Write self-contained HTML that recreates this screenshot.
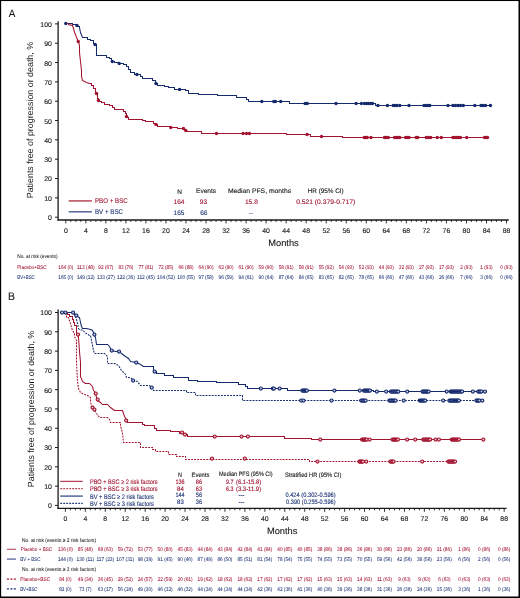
<!DOCTYPE html><html><head><meta charset="utf-8"><style>html,body{margin:0;padding:0;background:#fff;}svg{display:block;will-change:transform;}text{font-family:"Liberation Sans",sans-serif;text-rendering:geometricPrecision;}</style></head><body>
<svg width="520" height="598" viewBox="0 0 520 598">
<rect x="0" y="0" width="520" height="598" fill="#fff"/>
<text x="8.80" y="17.10" font-size="10.6" fill="#1a1a1a" stroke="#1a1a1a" stroke-width="0.12" textLength="6.60" lengthAdjust="spacingAndGlyphs">A</text>
<text x="8.00" y="299.60" font-size="11.0" fill="#1a1a1a" stroke="#1a1a1a" stroke-width="0.12" textLength="6.90" lengthAdjust="spacingAndGlyphs">B</text>
<line x1="58.10" y1="21.30" x2="58.10" y2="220.60" stroke="#1a1a1a" stroke-width="1.3"/>
<line x1="57.45" y1="220.00" x2="508.80" y2="220.00" stroke="#1a1a1a" stroke-width="1.3"/>
<line x1="55.00" y1="217.20" x2="58.10" y2="217.20" stroke="#1a1a1a" stroke-width="1.0"/>
<text x="51.80" y="220.15" font-size="6.9" fill="#1a1a1a" stroke="#1a1a1a" stroke-width="0.12" text-anchor="end">0</text>
<line x1="55.00" y1="197.87" x2="58.10" y2="197.87" stroke="#1a1a1a" stroke-width="1.0"/>
<text x="51.80" y="200.82" font-size="6.9" fill="#1a1a1a" stroke="#1a1a1a" stroke-width="0.12" text-anchor="end">10</text>
<line x1="55.00" y1="178.54" x2="58.10" y2="178.54" stroke="#1a1a1a" stroke-width="1.0"/>
<text x="51.80" y="181.49" font-size="6.9" fill="#1a1a1a" stroke="#1a1a1a" stroke-width="0.12" text-anchor="end">20</text>
<line x1="55.00" y1="159.21" x2="58.10" y2="159.21" stroke="#1a1a1a" stroke-width="1.0"/>
<text x="51.80" y="162.16" font-size="6.9" fill="#1a1a1a" stroke="#1a1a1a" stroke-width="0.12" text-anchor="end">30</text>
<line x1="55.00" y1="139.88" x2="58.10" y2="139.88" stroke="#1a1a1a" stroke-width="1.0"/>
<text x="51.80" y="142.83" font-size="6.9" fill="#1a1a1a" stroke="#1a1a1a" stroke-width="0.12" text-anchor="end">40</text>
<line x1="55.00" y1="120.55" x2="58.10" y2="120.55" stroke="#1a1a1a" stroke-width="1.0"/>
<text x="51.80" y="123.50" font-size="6.9" fill="#1a1a1a" stroke="#1a1a1a" stroke-width="0.12" text-anchor="end">50</text>
<line x1="55.00" y1="101.22" x2="58.10" y2="101.22" stroke="#1a1a1a" stroke-width="1.0"/>
<text x="51.80" y="104.17" font-size="6.9" fill="#1a1a1a" stroke="#1a1a1a" stroke-width="0.12" text-anchor="end">60</text>
<line x1="55.00" y1="81.89" x2="58.10" y2="81.89" stroke="#1a1a1a" stroke-width="1.0"/>
<text x="51.80" y="84.84" font-size="6.9" fill="#1a1a1a" stroke="#1a1a1a" stroke-width="0.12" text-anchor="end">70</text>
<line x1="55.00" y1="62.56" x2="58.10" y2="62.56" stroke="#1a1a1a" stroke-width="1.0"/>
<text x="51.80" y="65.51" font-size="6.9" fill="#1a1a1a" stroke="#1a1a1a" stroke-width="0.12" text-anchor="end">80</text>
<line x1="55.00" y1="43.23" x2="58.10" y2="43.23" stroke="#1a1a1a" stroke-width="1.0"/>
<text x="51.80" y="46.18" font-size="6.9" fill="#1a1a1a" stroke="#1a1a1a" stroke-width="0.12" text-anchor="end">90</text>
<line x1="55.00" y1="23.90" x2="58.10" y2="23.90" stroke="#1a1a1a" stroke-width="1.0"/>
<text x="51.80" y="26.85" font-size="6.9" fill="#1a1a1a" stroke="#1a1a1a" stroke-width="0.12" text-anchor="end">100</text>
<line x1="65.80" y1="220.00" x2="65.80" y2="223.40" stroke="#1a1a1a" stroke-width="0.9"/>
<text x="65.80" y="232.90" font-size="6.9" fill="#1a1a1a" stroke="#1a1a1a" stroke-width="0.12" text-anchor="middle">0</text>
<line x1="70.81" y1="220.00" x2="70.81" y2="221.90" stroke="#1a1a1a" stroke-width="0.9"/>
<line x1="75.82" y1="220.00" x2="75.82" y2="221.90" stroke="#1a1a1a" stroke-width="0.9"/>
<line x1="80.82" y1="220.00" x2="80.82" y2="221.90" stroke="#1a1a1a" stroke-width="0.9"/>
<line x1="85.83" y1="220.00" x2="85.83" y2="223.40" stroke="#1a1a1a" stroke-width="0.9"/>
<text x="85.83" y="232.90" font-size="6.9" fill="#1a1a1a" stroke="#1a1a1a" stroke-width="0.12" text-anchor="middle">4</text>
<line x1="90.84" y1="220.00" x2="90.84" y2="221.90" stroke="#1a1a1a" stroke-width="0.9"/>
<line x1="95.85" y1="220.00" x2="95.85" y2="221.90" stroke="#1a1a1a" stroke-width="0.9"/>
<line x1="100.86" y1="220.00" x2="100.86" y2="221.90" stroke="#1a1a1a" stroke-width="0.9"/>
<line x1="105.86" y1="220.00" x2="105.86" y2="223.40" stroke="#1a1a1a" stroke-width="0.9"/>
<text x="105.86" y="232.90" font-size="6.9" fill="#1a1a1a" stroke="#1a1a1a" stroke-width="0.12" text-anchor="middle">8</text>
<line x1="110.87" y1="220.00" x2="110.87" y2="221.90" stroke="#1a1a1a" stroke-width="0.9"/>
<line x1="115.88" y1="220.00" x2="115.88" y2="221.90" stroke="#1a1a1a" stroke-width="0.9"/>
<line x1="120.89" y1="220.00" x2="120.89" y2="221.90" stroke="#1a1a1a" stroke-width="0.9"/>
<line x1="125.90" y1="220.00" x2="125.90" y2="223.40" stroke="#1a1a1a" stroke-width="0.9"/>
<text x="125.90" y="232.90" font-size="6.9" fill="#1a1a1a" stroke="#1a1a1a" stroke-width="0.12" text-anchor="middle">12</text>
<line x1="130.90" y1="220.00" x2="130.90" y2="221.90" stroke="#1a1a1a" stroke-width="0.9"/>
<line x1="135.91" y1="220.00" x2="135.91" y2="221.90" stroke="#1a1a1a" stroke-width="0.9"/>
<line x1="140.92" y1="220.00" x2="140.92" y2="221.90" stroke="#1a1a1a" stroke-width="0.9"/>
<line x1="145.93" y1="220.00" x2="145.93" y2="223.40" stroke="#1a1a1a" stroke-width="0.9"/>
<text x="145.93" y="232.90" font-size="6.9" fill="#1a1a1a" stroke="#1a1a1a" stroke-width="0.12" text-anchor="middle">16</text>
<line x1="150.94" y1="220.00" x2="150.94" y2="221.90" stroke="#1a1a1a" stroke-width="0.9"/>
<line x1="155.94" y1="220.00" x2="155.94" y2="221.90" stroke="#1a1a1a" stroke-width="0.9"/>
<line x1="160.95" y1="220.00" x2="160.95" y2="221.90" stroke="#1a1a1a" stroke-width="0.9"/>
<line x1="165.96" y1="220.00" x2="165.96" y2="223.40" stroke="#1a1a1a" stroke-width="0.9"/>
<text x="165.96" y="232.90" font-size="6.9" fill="#1a1a1a" stroke="#1a1a1a" stroke-width="0.12" text-anchor="middle">20</text>
<line x1="170.97" y1="220.00" x2="170.97" y2="221.90" stroke="#1a1a1a" stroke-width="0.9"/>
<line x1="175.98" y1="220.00" x2="175.98" y2="221.90" stroke="#1a1a1a" stroke-width="0.9"/>
<line x1="180.98" y1="220.00" x2="180.98" y2="221.90" stroke="#1a1a1a" stroke-width="0.9"/>
<line x1="185.99" y1="220.00" x2="185.99" y2="223.40" stroke="#1a1a1a" stroke-width="0.9"/>
<text x="185.99" y="232.90" font-size="6.9" fill="#1a1a1a" stroke="#1a1a1a" stroke-width="0.12" text-anchor="middle">24</text>
<line x1="191.00" y1="220.00" x2="191.00" y2="221.90" stroke="#1a1a1a" stroke-width="0.9"/>
<line x1="196.01" y1="220.00" x2="196.01" y2="221.90" stroke="#1a1a1a" stroke-width="0.9"/>
<line x1="201.02" y1="220.00" x2="201.02" y2="221.90" stroke="#1a1a1a" stroke-width="0.9"/>
<line x1="206.02" y1="220.00" x2="206.02" y2="223.40" stroke="#1a1a1a" stroke-width="0.9"/>
<text x="206.02" y="232.90" font-size="6.9" fill="#1a1a1a" stroke="#1a1a1a" stroke-width="0.12" text-anchor="middle">28</text>
<line x1="211.03" y1="220.00" x2="211.03" y2="221.90" stroke="#1a1a1a" stroke-width="0.9"/>
<line x1="216.04" y1="220.00" x2="216.04" y2="221.90" stroke="#1a1a1a" stroke-width="0.9"/>
<line x1="221.05" y1="220.00" x2="221.05" y2="221.90" stroke="#1a1a1a" stroke-width="0.9"/>
<line x1="226.06" y1="220.00" x2="226.06" y2="223.40" stroke="#1a1a1a" stroke-width="0.9"/>
<text x="226.06" y="232.90" font-size="6.9" fill="#1a1a1a" stroke="#1a1a1a" stroke-width="0.12" text-anchor="middle">32</text>
<line x1="231.06" y1="220.00" x2="231.06" y2="221.90" stroke="#1a1a1a" stroke-width="0.9"/>
<line x1="236.07" y1="220.00" x2="236.07" y2="221.90" stroke="#1a1a1a" stroke-width="0.9"/>
<line x1="241.08" y1="220.00" x2="241.08" y2="221.90" stroke="#1a1a1a" stroke-width="0.9"/>
<line x1="246.09" y1="220.00" x2="246.09" y2="223.40" stroke="#1a1a1a" stroke-width="0.9"/>
<text x="246.09" y="232.90" font-size="6.9" fill="#1a1a1a" stroke="#1a1a1a" stroke-width="0.12" text-anchor="middle">36</text>
<line x1="251.10" y1="220.00" x2="251.10" y2="221.90" stroke="#1a1a1a" stroke-width="0.9"/>
<line x1="256.10" y1="220.00" x2="256.10" y2="221.90" stroke="#1a1a1a" stroke-width="0.9"/>
<line x1="261.11" y1="220.00" x2="261.11" y2="221.90" stroke="#1a1a1a" stroke-width="0.9"/>
<line x1="266.12" y1="220.00" x2="266.12" y2="223.40" stroke="#1a1a1a" stroke-width="0.9"/>
<text x="266.12" y="232.90" font-size="6.9" fill="#1a1a1a" stroke="#1a1a1a" stroke-width="0.12" text-anchor="middle">40</text>
<line x1="271.13" y1="220.00" x2="271.13" y2="221.90" stroke="#1a1a1a" stroke-width="0.9"/>
<line x1="276.14" y1="220.00" x2="276.14" y2="221.90" stroke="#1a1a1a" stroke-width="0.9"/>
<line x1="281.14" y1="220.00" x2="281.14" y2="221.90" stroke="#1a1a1a" stroke-width="0.9"/>
<line x1="286.15" y1="220.00" x2="286.15" y2="223.40" stroke="#1a1a1a" stroke-width="0.9"/>
<text x="286.15" y="232.90" font-size="6.9" fill="#1a1a1a" stroke="#1a1a1a" stroke-width="0.12" text-anchor="middle">44</text>
<line x1="291.16" y1="220.00" x2="291.16" y2="221.90" stroke="#1a1a1a" stroke-width="0.9"/>
<line x1="296.17" y1="220.00" x2="296.17" y2="221.90" stroke="#1a1a1a" stroke-width="0.9"/>
<line x1="301.18" y1="220.00" x2="301.18" y2="221.90" stroke="#1a1a1a" stroke-width="0.9"/>
<line x1="306.18" y1="220.00" x2="306.18" y2="223.40" stroke="#1a1a1a" stroke-width="0.9"/>
<text x="306.18" y="232.90" font-size="6.9" fill="#1a1a1a" stroke="#1a1a1a" stroke-width="0.12" text-anchor="middle">48</text>
<line x1="311.19" y1="220.00" x2="311.19" y2="221.90" stroke="#1a1a1a" stroke-width="0.9"/>
<line x1="316.20" y1="220.00" x2="316.20" y2="221.90" stroke="#1a1a1a" stroke-width="0.9"/>
<line x1="321.21" y1="220.00" x2="321.21" y2="221.90" stroke="#1a1a1a" stroke-width="0.9"/>
<line x1="326.22" y1="220.00" x2="326.22" y2="223.40" stroke="#1a1a1a" stroke-width="0.9"/>
<text x="326.22" y="232.90" font-size="6.9" fill="#1a1a1a" stroke="#1a1a1a" stroke-width="0.12" text-anchor="middle">52</text>
<line x1="331.22" y1="220.00" x2="331.22" y2="221.90" stroke="#1a1a1a" stroke-width="0.9"/>
<line x1="336.23" y1="220.00" x2="336.23" y2="221.90" stroke="#1a1a1a" stroke-width="0.9"/>
<line x1="341.24" y1="220.00" x2="341.24" y2="221.90" stroke="#1a1a1a" stroke-width="0.9"/>
<line x1="346.25" y1="220.00" x2="346.25" y2="223.40" stroke="#1a1a1a" stroke-width="0.9"/>
<text x="346.25" y="232.90" font-size="6.9" fill="#1a1a1a" stroke="#1a1a1a" stroke-width="0.12" text-anchor="middle">56</text>
<line x1="351.26" y1="220.00" x2="351.26" y2="221.90" stroke="#1a1a1a" stroke-width="0.9"/>
<line x1="356.26" y1="220.00" x2="356.26" y2="221.90" stroke="#1a1a1a" stroke-width="0.9"/>
<line x1="361.27" y1="220.00" x2="361.27" y2="221.90" stroke="#1a1a1a" stroke-width="0.9"/>
<line x1="366.28" y1="220.00" x2="366.28" y2="223.40" stroke="#1a1a1a" stroke-width="0.9"/>
<text x="366.28" y="232.90" font-size="6.9" fill="#1a1a1a" stroke="#1a1a1a" stroke-width="0.12" text-anchor="middle">60</text>
<line x1="371.29" y1="220.00" x2="371.29" y2="221.90" stroke="#1a1a1a" stroke-width="0.9"/>
<line x1="376.30" y1="220.00" x2="376.30" y2="221.90" stroke="#1a1a1a" stroke-width="0.9"/>
<line x1="381.30" y1="220.00" x2="381.30" y2="221.90" stroke="#1a1a1a" stroke-width="0.9"/>
<line x1="386.31" y1="220.00" x2="386.31" y2="223.40" stroke="#1a1a1a" stroke-width="0.9"/>
<text x="386.31" y="232.90" font-size="6.9" fill="#1a1a1a" stroke="#1a1a1a" stroke-width="0.12" text-anchor="middle">64</text>
<line x1="391.32" y1="220.00" x2="391.32" y2="221.90" stroke="#1a1a1a" stroke-width="0.9"/>
<line x1="396.33" y1="220.00" x2="396.33" y2="221.90" stroke="#1a1a1a" stroke-width="0.9"/>
<line x1="401.34" y1="220.00" x2="401.34" y2="221.90" stroke="#1a1a1a" stroke-width="0.9"/>
<line x1="406.34" y1="220.00" x2="406.34" y2="223.40" stroke="#1a1a1a" stroke-width="0.9"/>
<text x="406.34" y="232.90" font-size="6.9" fill="#1a1a1a" stroke="#1a1a1a" stroke-width="0.12" text-anchor="middle">68</text>
<line x1="411.35" y1="220.00" x2="411.35" y2="221.90" stroke="#1a1a1a" stroke-width="0.9"/>
<line x1="416.36" y1="220.00" x2="416.36" y2="221.90" stroke="#1a1a1a" stroke-width="0.9"/>
<line x1="421.37" y1="220.00" x2="421.37" y2="221.90" stroke="#1a1a1a" stroke-width="0.9"/>
<line x1="426.38" y1="220.00" x2="426.38" y2="223.40" stroke="#1a1a1a" stroke-width="0.9"/>
<text x="426.38" y="232.90" font-size="6.9" fill="#1a1a1a" stroke="#1a1a1a" stroke-width="0.12" text-anchor="middle">72</text>
<line x1="431.38" y1="220.00" x2="431.38" y2="221.90" stroke="#1a1a1a" stroke-width="0.9"/>
<line x1="436.39" y1="220.00" x2="436.39" y2="221.90" stroke="#1a1a1a" stroke-width="0.9"/>
<line x1="441.40" y1="220.00" x2="441.40" y2="221.90" stroke="#1a1a1a" stroke-width="0.9"/>
<line x1="446.41" y1="220.00" x2="446.41" y2="223.40" stroke="#1a1a1a" stroke-width="0.9"/>
<text x="446.41" y="232.90" font-size="6.9" fill="#1a1a1a" stroke="#1a1a1a" stroke-width="0.12" text-anchor="middle">76</text>
<line x1="451.42" y1="220.00" x2="451.42" y2="221.90" stroke="#1a1a1a" stroke-width="0.9"/>
<line x1="456.42" y1="220.00" x2="456.42" y2="221.90" stroke="#1a1a1a" stroke-width="0.9"/>
<line x1="461.43" y1="220.00" x2="461.43" y2="221.90" stroke="#1a1a1a" stroke-width="0.9"/>
<line x1="466.44" y1="220.00" x2="466.44" y2="223.40" stroke="#1a1a1a" stroke-width="0.9"/>
<text x="466.44" y="232.90" font-size="6.9" fill="#1a1a1a" stroke="#1a1a1a" stroke-width="0.12" text-anchor="middle">80</text>
<line x1="471.45" y1="220.00" x2="471.45" y2="221.90" stroke="#1a1a1a" stroke-width="0.9"/>
<line x1="476.46" y1="220.00" x2="476.46" y2="221.90" stroke="#1a1a1a" stroke-width="0.9"/>
<line x1="481.46" y1="220.00" x2="481.46" y2="221.90" stroke="#1a1a1a" stroke-width="0.9"/>
<line x1="486.47" y1="220.00" x2="486.47" y2="223.40" stroke="#1a1a1a" stroke-width="0.9"/>
<text x="486.47" y="232.90" font-size="6.9" fill="#1a1a1a" stroke="#1a1a1a" stroke-width="0.12" text-anchor="middle">84</text>
<line x1="491.48" y1="220.00" x2="491.48" y2="221.90" stroke="#1a1a1a" stroke-width="0.9"/>
<line x1="496.49" y1="220.00" x2="496.49" y2="221.90" stroke="#1a1a1a" stroke-width="0.9"/>
<line x1="501.50" y1="220.00" x2="501.50" y2="221.90" stroke="#1a1a1a" stroke-width="0.9"/>
<line x1="506.50" y1="220.00" x2="506.50" y2="223.40" stroke="#1a1a1a" stroke-width="0.9"/>
<text x="506.50" y="232.90" font-size="6.9" fill="#1a1a1a" stroke="#1a1a1a" stroke-width="0.12" text-anchor="middle">88</text>
<text x="0" y="0" font-size="8.9" fill="#1a1a1a" text-anchor="middle" textLength="156.4" lengthAdjust="spacingAndGlyphs" transform="translate(33.4,120.1) rotate(-90)">Patients free of progression or death, %</text>
<text x="268.20" y="246.20" font-size="9.2" fill="#1a1a1a" stroke="#1a1a1a" stroke-width="0.12" textLength="30.60" lengthAdjust="spacingAndGlyphs">Months</text>
<polyline points="65.50,23.50 72.50,23.50 72.50,24.50 76.50,24.50 76.50,26.50 79.50,26.50 79.50,27.50 80.50,32.50 82.50,37.50 86.50,37.50 87.50,37.50 87.50,39.50 90.50,39.50 90.50,40.50 93.50,40.50 93.50,43.50 95.50,43.50 95.50,44.50 96.50,44.50 96.50,55.50 102.50,55.50 106.50,55.50 106.50,57.50 109.50,57.50 109.50,58.50 111.50,58.50 111.50,61.50 114.50,61.50 114.50,62.50 119.50,62.50 119.50,63.50 123.50,63.50 123.50,64.50 126.50,64.50 126.50,66.50 128.50,66.50 128.50,69.50 130.50,69.50 130.50,72.50 134.50,72.50 134.50,74.50 140.50,74.50 140.50,76.50 142.50,76.50 142.50,78.50 152.50,78.50 152.50,80.50 155.50,80.50 155.50,83.50 157.50,83.50 157.50,85.50 164.50,85.50 164.50,86.50 168.50,86.50 168.50,87.50 174.50,87.50 174.50,89.50 185.50,89.50 185.50,90.50 188.50,90.50 188.50,93.50 198.50,93.50 198.50,94.50 217.50,94.50 217.50,95.50 236.50,95.50 236.50,97.50 246.50,97.50 246.50,99.50 248.50,99.50 248.50,101.50 289.50,101.50 289.50,103.50 375.50,103.50 375.50,105.50 491.50,105.50" fill="none" stroke="#152a6d" stroke-width="1.05" stroke-linejoin="miter"/>
<polyline points="65.50,23.50 68.50,23.50 68.50,24.50 72.50,25.50 73.50,28.50 74.50,32.50 75.50,34.50 76.50,37.50 78.50,41.50 79.50,45.50 79.50,52.50 80.50,61.50 81.50,70.50 81.50,76.50 82.50,80.50 86.50,82.50 89.50,83.50 91.50,83.50 91.50,85.50 93.50,85.50 93.50,88.50 95.50,88.50 95.50,93.50 97.50,93.50 97.50,98.50 98.50,98.50 98.50,101.50 101.50,101.50 101.50,102.50 104.50,102.50 104.50,104.50 109.50,104.50 109.50,105.50 112.50,105.50 112.50,107.50 114.50,107.50 114.50,109.50 123.50,109.50 123.50,111.50 125.50,111.50 125.50,113.50 126.50,113.50 126.50,117.50 128.50,117.50 128.50,119.50 142.50,119.50 142.50,120.50 145.50,120.50 145.50,121.50 153.50,121.50 153.50,123.50 155.50,123.50 155.50,124.50 157.50,124.50 157.50,126.50 170.50,126.50 170.50,127.50 177.50,127.50 177.50,128.50 184.50,128.50 184.50,130.50 186.50,130.50 186.50,131.50 201.50,131.50 201.50,133.50 286.50,133.50 286.50,134.50 310.50,134.50 310.50,136.50 342.50,136.50 342.50,137.50 487.50,137.50" fill="none" stroke="#a3132f" stroke-width="1.05" stroke-linejoin="miter"/>
<circle cx="65.80" cy="23.50" r="1.7" fill="#152a6d"/>
<circle cx="77.00" cy="25.50" r="1.7" fill="#152a6d"/>
<circle cx="95.10" cy="44.50" r="1.7" fill="#152a6d"/>
<circle cx="112.30" cy="61.50" r="1.7" fill="#152a6d"/>
<circle cx="119.20" cy="63.50" r="1.7" fill="#152a6d"/>
<circle cx="136.90" cy="74.50" r="1.7" fill="#152a6d"/>
<circle cx="156.00" cy="83.50" r="1.7" fill="#152a6d"/>
<circle cx="179.60" cy="89.50" r="1.7" fill="#152a6d"/>
<circle cx="261.80" cy="101.50" r="1.7" fill="#152a6d"/>
<circle cx="273.80" cy="101.50" r="1.7" fill="#152a6d"/>
<circle cx="275.40" cy="101.50" r="1.7" fill="#152a6d"/>
<circle cx="280.70" cy="101.50" r="1.7" fill="#152a6d"/>
<circle cx="305.10" cy="103.50" r="1.7" fill="#152a6d"/>
<circle cx="307.30" cy="103.50" r="1.7" fill="#152a6d"/>
<circle cx="336.00" cy="103.50" r="1.7" fill="#152a6d"/>
<circle cx="356.10" cy="103.50" r="1.7" fill="#152a6d"/>
<circle cx="361.40" cy="103.50" r="1.7" fill="#152a6d"/>
<circle cx="364.50" cy="103.50" r="1.7" fill="#152a6d"/>
<circle cx="366.50" cy="103.50" r="1.7" fill="#152a6d"/>
<circle cx="368.50" cy="103.50" r="1.7" fill="#152a6d"/>
<circle cx="370.50" cy="103.50" r="1.7" fill="#152a6d"/>
<circle cx="372.50" cy="103.50" r="1.7" fill="#152a6d"/>
<circle cx="377.90" cy="105.50" r="1.7" fill="#152a6d"/>
<circle cx="387.40" cy="105.50" r="1.7" fill="#152a6d"/>
<circle cx="393.20" cy="105.50" r="1.7" fill="#152a6d"/>
<circle cx="395.00" cy="105.50" r="1.7" fill="#152a6d"/>
<circle cx="397.00" cy="105.50" r="1.7" fill="#152a6d"/>
<circle cx="399.80" cy="105.50" r="1.7" fill="#152a6d"/>
<circle cx="409.00" cy="105.50" r="1.7" fill="#152a6d"/>
<circle cx="424.00" cy="105.50" r="1.7" fill="#152a6d"/>
<circle cx="426.00" cy="105.50" r="1.7" fill="#152a6d"/>
<circle cx="428.00" cy="105.50" r="1.7" fill="#152a6d"/>
<circle cx="429.80" cy="105.50" r="1.7" fill="#152a6d"/>
<circle cx="448.00" cy="105.50" r="1.7" fill="#152a6d"/>
<circle cx="452.90" cy="105.50" r="1.7" fill="#152a6d"/>
<circle cx="455.50" cy="105.50" r="1.7" fill="#152a6d"/>
<circle cx="458.00" cy="105.50" r="1.7" fill="#152a6d"/>
<circle cx="460.50" cy="105.50" r="1.7" fill="#152a6d"/>
<circle cx="463.30" cy="105.50" r="1.7" fill="#152a6d"/>
<circle cx="474.80" cy="105.50" r="1.7" fill="#152a6d"/>
<circle cx="481.00" cy="105.50" r="1.7" fill="#152a6d"/>
<circle cx="483.20" cy="105.50" r="1.7" fill="#152a6d"/>
<circle cx="485.50" cy="105.50" r="1.7" fill="#152a6d"/>
<circle cx="490.40" cy="105.50" r="1.7" fill="#152a6d"/>
<circle cx="78.20" cy="41.50" r="1.7" fill="#a3132f"/>
<circle cx="96.50" cy="93.50" r="1.7" fill="#a3132f"/>
<circle cx="98.50" cy="100.50" r="1.7" fill="#a3132f"/>
<circle cx="126.50" cy="116.50" r="1.7" fill="#a3132f"/>
<circle cx="156.00" cy="124.50" r="1.7" fill="#a3132f"/>
<circle cx="170.80" cy="127.50" r="1.7" fill="#a3132f"/>
<circle cx="183.50" cy="128.50" r="1.7" fill="#a3132f"/>
<circle cx="185.80" cy="130.50" r="1.7" fill="#a3132f"/>
<circle cx="216.50" cy="133.50" r="1.7" fill="#a3132f"/>
<circle cx="243.10" cy="133.50" r="1.7" fill="#a3132f"/>
<circle cx="246.50" cy="133.50" r="1.7" fill="#a3132f"/>
<circle cx="249.40" cy="133.50" r="1.7" fill="#a3132f"/>
<circle cx="307.10" cy="134.50" r="1.7" fill="#a3132f"/>
<circle cx="321.50" cy="136.50" r="1.7" fill="#a3132f"/>
<circle cx="364.30" cy="137.50" r="1.7" fill="#a3132f"/>
<circle cx="365.80" cy="137.50" r="1.7" fill="#a3132f"/>
<circle cx="367.20" cy="137.50" r="1.7" fill="#a3132f"/>
<circle cx="371.00" cy="137.50" r="1.7" fill="#a3132f"/>
<circle cx="384.50" cy="137.50" r="1.7" fill="#a3132f"/>
<circle cx="386.40" cy="137.50" r="1.7" fill="#a3132f"/>
<circle cx="388.30" cy="137.50" r="1.7" fill="#a3132f"/>
<circle cx="394.60" cy="137.50" r="1.7" fill="#a3132f"/>
<circle cx="396.40" cy="137.50" r="1.7" fill="#a3132f"/>
<circle cx="398.20" cy="137.50" r="1.7" fill="#a3132f"/>
<circle cx="399.80" cy="137.50" r="1.7" fill="#a3132f"/>
<circle cx="405.60" cy="137.50" r="1.7" fill="#a3132f"/>
<circle cx="407.30" cy="137.50" r="1.7" fill="#a3132f"/>
<circle cx="409.00" cy="137.50" r="1.7" fill="#a3132f"/>
<circle cx="416.20" cy="137.50" r="1.7" fill="#a3132f"/>
<circle cx="417.70" cy="137.50" r="1.7" fill="#a3132f"/>
<circle cx="426.30" cy="137.50" r="1.7" fill="#a3132f"/>
<circle cx="428.50" cy="137.50" r="1.7" fill="#a3132f"/>
<circle cx="430.70" cy="137.50" r="1.7" fill="#a3132f"/>
<circle cx="437.30" cy="137.50" r="1.7" fill="#a3132f"/>
<circle cx="441.30" cy="137.50" r="1.7" fill="#a3132f"/>
<circle cx="452.90" cy="137.50" r="1.7" fill="#a3132f"/>
<circle cx="454.80" cy="137.50" r="1.7" fill="#a3132f"/>
<circle cx="456.70" cy="137.50" r="1.7" fill="#a3132f"/>
<circle cx="458.50" cy="137.50" r="1.7" fill="#a3132f"/>
<circle cx="460.40" cy="137.50" r="1.7" fill="#a3132f"/>
<circle cx="466.70" cy="137.50" r="1.7" fill="#a3132f"/>
<circle cx="484.60" cy="137.50" r="1.7" fill="#a3132f"/>
<circle cx="486.00" cy="137.50" r="1.7" fill="#a3132f"/>
<circle cx="487.50" cy="137.50" r="1.7" fill="#a3132f"/>
<line x1="68.70" y1="200.90" x2="91.90" y2="200.90" stroke="#b84658" stroke-width="1.5"/>
<line x1="68.70" y1="211.80" x2="91.90" y2="211.80" stroke="#56659a" stroke-width="1.5"/>
<text x="95.00" y="203.10" font-size="6.9" fill="#a3132f" stroke="#a3132f" stroke-width="0.12" textLength="32.70" lengthAdjust="spacingAndGlyphs">PBO + BSC</text>
<text x="95.00" y="213.90" font-size="6.9" fill="#1d3375" stroke="#1d3375" stroke-width="0.12" textLength="28.00" lengthAdjust="spacingAndGlyphs">BV + BSC</text>
<text x="177.20" y="193.90" font-size="6.6" fill="#1a1a1a" stroke="#1a1a1a" stroke-width="0.12" textLength="4.70" lengthAdjust="spacingAndGlyphs">N</text>
<text x="196.00" y="193.30" font-size="6.6" fill="#1a1a1a" stroke="#1a1a1a" stroke-width="0.12" textLength="20.10" lengthAdjust="spacingAndGlyphs">Events</text>
<text x="227.90" y="192.90" font-size="6.6" fill="#1a1a1a" stroke="#1a1a1a" stroke-width="0.12" textLength="63.20" lengthAdjust="spacingAndGlyphs">Median PFS, months</text>
<text x="307.70" y="192.90" font-size="6.6" fill="#1a1a1a" stroke="#1a1a1a" stroke-width="0.12" textLength="36.00" lengthAdjust="spacingAndGlyphs">HR (95% CI)</text>
<text x="173.50" y="204.00" font-size="6.6" fill="#a3132f" stroke="#a3132f" stroke-width="0.12" textLength="10.90" lengthAdjust="spacingAndGlyphs">164</text>
<text x="199.80" y="204.00" font-size="6.6" fill="#a3132f" stroke="#a3132f" stroke-width="0.12" textLength="7.30" lengthAdjust="spacingAndGlyphs">93</text>
<text x="244.90" y="204.00" font-size="6.6" fill="#a3132f" stroke="#a3132f" stroke-width="0.12" textLength="13.00" lengthAdjust="spacingAndGlyphs">15.8</text>
<text x="296.20" y="204.00" font-size="6.6" fill="#a3132f" stroke="#a3132f" stroke-width="0.12" textLength="59.00" lengthAdjust="spacingAndGlyphs">0.521 (0.379-0.717)</text>
<text x="173.50" y="215.20" font-size="6.6" fill="#1d3375" stroke="#1d3375" stroke-width="0.12" textLength="10.90" lengthAdjust="spacingAndGlyphs">165</text>
<text x="200.20" y="215.20" font-size="6.6" fill="#1d3375" stroke="#1d3375" stroke-width="0.12" textLength="7.30" lengthAdjust="spacingAndGlyphs">66</text>
<text x="248.80" y="214.60" font-size="6.6" fill="#1d3375" stroke="#1d3375" stroke-width="0.12" textLength="4.30" lengthAdjust="spacingAndGlyphs">--</text>
<text x="17.20" y="258.30" font-size="5.3" fill="#1a1a1a" stroke="#1a1a1a" stroke-width="0.05" textLength="40.30" lengthAdjust="spacingAndGlyphs">No. at risk (events)</text>
<text x="17.20" y="268.70" font-size="5.3" fill="#a3132f" stroke="#a3132f" stroke-width="0.05" textLength="29.50" lengthAdjust="spacingAndGlyphs">Placebo+BSC</text>
<text x="17.20" y="278.80" font-size="5.3" fill="#1d3375" stroke="#1d3375" stroke-width="0.05" textLength="17.60" lengthAdjust="spacingAndGlyphs">BV+BSC</text>
<text x="65.80" y="268.70" font-size="5.3" fill="#a3132f" stroke="#a3132f" stroke-width="0.05" text-anchor="middle" textLength="15.01" lengthAdjust="spacingAndGlyphs">164 (0)</text>
<text x="85.83" y="268.70" font-size="5.3" fill="#a3132f" stroke="#a3132f" stroke-width="0.05" text-anchor="middle" textLength="17.73" lengthAdjust="spacingAndGlyphs">113 (48)</text>
<text x="105.86" y="268.70" font-size="5.3" fill="#a3132f" stroke="#a3132f" stroke-width="0.05" text-anchor="middle" textLength="15.01" lengthAdjust="spacingAndGlyphs">92 (67)</text>
<text x="125.90" y="268.70" font-size="5.3" fill="#a3132f" stroke="#a3132f" stroke-width="0.05" text-anchor="middle" textLength="15.01" lengthAdjust="spacingAndGlyphs">83 (76)</text>
<text x="145.93" y="268.70" font-size="5.3" fill="#a3132f" stroke="#a3132f" stroke-width="0.05" text-anchor="middle" textLength="15.01" lengthAdjust="spacingAndGlyphs">77 (81)</text>
<text x="165.96" y="268.70" font-size="5.3" fill="#a3132f" stroke="#a3132f" stroke-width="0.05" text-anchor="middle" textLength="15.01" lengthAdjust="spacingAndGlyphs">72 (85)</text>
<text x="185.99" y="268.70" font-size="5.3" fill="#a3132f" stroke="#a3132f" stroke-width="0.05" text-anchor="middle" textLength="15.01" lengthAdjust="spacingAndGlyphs">66 (88)</text>
<text x="206.02" y="268.70" font-size="5.3" fill="#a3132f" stroke="#a3132f" stroke-width="0.05" text-anchor="middle" textLength="15.01" lengthAdjust="spacingAndGlyphs">64 (90)</text>
<text x="226.06" y="268.70" font-size="5.3" fill="#a3132f" stroke="#a3132f" stroke-width="0.05" text-anchor="middle" textLength="15.01" lengthAdjust="spacingAndGlyphs">62 (90)</text>
<text x="246.09" y="268.70" font-size="5.3" fill="#a3132f" stroke="#a3132f" stroke-width="0.05" text-anchor="middle" textLength="15.01" lengthAdjust="spacingAndGlyphs">61 (90)</text>
<text x="266.12" y="268.70" font-size="5.3" fill="#a3132f" stroke="#a3132f" stroke-width="0.05" text-anchor="middle" textLength="15.01" lengthAdjust="spacingAndGlyphs">59 (90)</text>
<text x="286.15" y="268.70" font-size="5.3" fill="#a3132f" stroke="#a3132f" stroke-width="0.05" text-anchor="middle" textLength="15.01" lengthAdjust="spacingAndGlyphs">58 (91)</text>
<text x="306.18" y="268.70" font-size="5.3" fill="#a3132f" stroke="#a3132f" stroke-width="0.05" text-anchor="middle" textLength="15.01" lengthAdjust="spacingAndGlyphs">58 (91)</text>
<text x="326.22" y="268.70" font-size="5.3" fill="#a3132f" stroke="#a3132f" stroke-width="0.05" text-anchor="middle" textLength="15.01" lengthAdjust="spacingAndGlyphs">55 (92)</text>
<text x="346.25" y="268.70" font-size="5.3" fill="#a3132f" stroke="#a3132f" stroke-width="0.05" text-anchor="middle" textLength="15.01" lengthAdjust="spacingAndGlyphs">54 (93)</text>
<text x="366.28" y="268.70" font-size="5.3" fill="#a3132f" stroke="#a3132f" stroke-width="0.05" text-anchor="middle" textLength="15.01" lengthAdjust="spacingAndGlyphs">52 (93)</text>
<text x="386.31" y="268.70" font-size="5.3" fill="#a3132f" stroke="#a3132f" stroke-width="0.05" text-anchor="middle" textLength="15.01" lengthAdjust="spacingAndGlyphs">44 (93)</text>
<text x="406.34" y="268.70" font-size="5.3" fill="#a3132f" stroke="#a3132f" stroke-width="0.05" text-anchor="middle" textLength="15.01" lengthAdjust="spacingAndGlyphs">32 (93)</text>
<text x="426.38" y="268.70" font-size="5.3" fill="#a3132f" stroke="#a3132f" stroke-width="0.05" text-anchor="middle" textLength="15.01" lengthAdjust="spacingAndGlyphs">27 (93)</text>
<text x="446.41" y="268.70" font-size="5.3" fill="#a3132f" stroke="#a3132f" stroke-width="0.05" text-anchor="middle" textLength="15.01" lengthAdjust="spacingAndGlyphs">17 (93)</text>
<text x="466.44" y="268.70" font-size="5.3" fill="#a3132f" stroke="#a3132f" stroke-width="0.05" text-anchor="middle" textLength="12.29" lengthAdjust="spacingAndGlyphs">2 (93)</text>
<text x="486.47" y="268.70" font-size="5.3" fill="#a3132f" stroke="#a3132f" stroke-width="0.05" text-anchor="middle" textLength="12.29" lengthAdjust="spacingAndGlyphs">1 (93)</text>
<text x="506.50" y="268.70" font-size="5.3" fill="#a3132f" stroke="#a3132f" stroke-width="0.05" text-anchor="middle" textLength="12.29" lengthAdjust="spacingAndGlyphs">0 (93)</text>
<text x="65.80" y="278.80" font-size="5.3" fill="#1d3375" stroke="#1d3375" stroke-width="0.05" text-anchor="middle" textLength="15.01" lengthAdjust="spacingAndGlyphs">165 (0)</text>
<text x="85.83" y="278.80" font-size="5.3" fill="#1d3375" stroke="#1d3375" stroke-width="0.05" text-anchor="middle" textLength="17.73" lengthAdjust="spacingAndGlyphs">149 (12)</text>
<text x="105.86" y="278.80" font-size="5.3" fill="#1d3375" stroke="#1d3375" stroke-width="0.05" text-anchor="middle" textLength="17.73" lengthAdjust="spacingAndGlyphs">133 (27)</text>
<text x="125.90" y="278.80" font-size="5.3" fill="#1d3375" stroke="#1d3375" stroke-width="0.05" text-anchor="middle" textLength="17.73" lengthAdjust="spacingAndGlyphs">122 (36)</text>
<text x="145.93" y="278.80" font-size="5.3" fill="#1d3375" stroke="#1d3375" stroke-width="0.05" text-anchor="middle" textLength="17.73" lengthAdjust="spacingAndGlyphs">112 (45)</text>
<text x="165.96" y="278.80" font-size="5.3" fill="#1d3375" stroke="#1d3375" stroke-width="0.05" text-anchor="middle" textLength="17.73" lengthAdjust="spacingAndGlyphs">104 (52)</text>
<text x="185.99" y="278.80" font-size="5.3" fill="#1d3375" stroke="#1d3375" stroke-width="0.05" text-anchor="middle" textLength="17.73" lengthAdjust="spacingAndGlyphs">100 (55)</text>
<text x="206.02" y="278.80" font-size="5.3" fill="#1d3375" stroke="#1d3375" stroke-width="0.05" text-anchor="middle" textLength="15.01" lengthAdjust="spacingAndGlyphs">97 (58)</text>
<text x="226.06" y="278.80" font-size="5.3" fill="#1d3375" stroke="#1d3375" stroke-width="0.05" text-anchor="middle" textLength="15.01" lengthAdjust="spacingAndGlyphs">96 (59)</text>
<text x="246.09" y="278.80" font-size="5.3" fill="#1d3375" stroke="#1d3375" stroke-width="0.05" text-anchor="middle" textLength="15.01" lengthAdjust="spacingAndGlyphs">94 (61)</text>
<text x="266.12" y="278.80" font-size="5.3" fill="#1d3375" stroke="#1d3375" stroke-width="0.05" text-anchor="middle" textLength="15.01" lengthAdjust="spacingAndGlyphs">90 (64)</text>
<text x="286.15" y="278.80" font-size="5.3" fill="#1d3375" stroke="#1d3375" stroke-width="0.05" text-anchor="middle" textLength="15.01" lengthAdjust="spacingAndGlyphs">87 (64)</text>
<text x="306.18" y="278.80" font-size="5.3" fill="#1d3375" stroke="#1d3375" stroke-width="0.05" text-anchor="middle" textLength="15.01" lengthAdjust="spacingAndGlyphs">84 (65)</text>
<text x="326.22" y="278.80" font-size="5.3" fill="#1d3375" stroke="#1d3375" stroke-width="0.05" text-anchor="middle" textLength="15.01" lengthAdjust="spacingAndGlyphs">83 (65)</text>
<text x="346.25" y="278.80" font-size="5.3" fill="#1d3375" stroke="#1d3375" stroke-width="0.05" text-anchor="middle" textLength="15.01" lengthAdjust="spacingAndGlyphs">82 (65)</text>
<text x="366.28" y="278.80" font-size="5.3" fill="#1d3375" stroke="#1d3375" stroke-width="0.05" text-anchor="middle" textLength="15.01" lengthAdjust="spacingAndGlyphs">78 (65)</text>
<text x="386.31" y="278.80" font-size="5.3" fill="#1d3375" stroke="#1d3375" stroke-width="0.05" text-anchor="middle" textLength="15.01" lengthAdjust="spacingAndGlyphs">66 (66)</text>
<text x="406.34" y="278.80" font-size="5.3" fill="#1d3375" stroke="#1d3375" stroke-width="0.05" text-anchor="middle" textLength="15.01" lengthAdjust="spacingAndGlyphs">47 (66)</text>
<text x="426.38" y="278.80" font-size="5.3" fill="#1d3375" stroke="#1d3375" stroke-width="0.05" text-anchor="middle" textLength="15.01" lengthAdjust="spacingAndGlyphs">43 (66)</text>
<text x="446.41" y="278.80" font-size="5.3" fill="#1d3375" stroke="#1d3375" stroke-width="0.05" text-anchor="middle" textLength="15.01" lengthAdjust="spacingAndGlyphs">26 (66)</text>
<text x="466.44" y="278.80" font-size="5.3" fill="#1d3375" stroke="#1d3375" stroke-width="0.05" text-anchor="middle" textLength="12.29" lengthAdjust="spacingAndGlyphs">7 (66)</text>
<text x="486.47" y="278.80" font-size="5.3" fill="#1d3375" stroke="#1d3375" stroke-width="0.05" text-anchor="middle" textLength="12.29" lengthAdjust="spacingAndGlyphs">3 (66)</text>
<text x="506.50" y="278.80" font-size="5.3" fill="#1d3375" stroke="#1d3375" stroke-width="0.05" text-anchor="middle" textLength="12.29" lengthAdjust="spacingAndGlyphs">0 (66)</text>
<line x1="58.10" y1="309.60" x2="58.10" y2="509.00" stroke="#1a1a1a" stroke-width="1.3"/>
<line x1="57.45" y1="508.40" x2="506.60" y2="508.40" stroke="#1a1a1a" stroke-width="1.3"/>
<line x1="55.00" y1="505.40" x2="58.10" y2="505.40" stroke="#1a1a1a" stroke-width="1.0"/>
<text x="51.80" y="508.35" font-size="6.9" fill="#1a1a1a" stroke="#1a1a1a" stroke-width="0.12" text-anchor="end">0</text>
<line x1="55.00" y1="486.11" x2="58.10" y2="486.11" stroke="#1a1a1a" stroke-width="1.0"/>
<text x="51.80" y="489.06" font-size="6.9" fill="#1a1a1a" stroke="#1a1a1a" stroke-width="0.12" text-anchor="end">10</text>
<line x1="55.00" y1="466.82" x2="58.10" y2="466.82" stroke="#1a1a1a" stroke-width="1.0"/>
<text x="51.80" y="469.77" font-size="6.9" fill="#1a1a1a" stroke="#1a1a1a" stroke-width="0.12" text-anchor="end">20</text>
<line x1="55.00" y1="447.53" x2="58.10" y2="447.53" stroke="#1a1a1a" stroke-width="1.0"/>
<text x="51.80" y="450.48" font-size="6.9" fill="#1a1a1a" stroke="#1a1a1a" stroke-width="0.12" text-anchor="end">30</text>
<line x1="55.00" y1="428.24" x2="58.10" y2="428.24" stroke="#1a1a1a" stroke-width="1.0"/>
<text x="51.80" y="431.19" font-size="6.9" fill="#1a1a1a" stroke="#1a1a1a" stroke-width="0.12" text-anchor="end">40</text>
<line x1="55.00" y1="408.95" x2="58.10" y2="408.95" stroke="#1a1a1a" stroke-width="1.0"/>
<text x="51.80" y="411.90" font-size="6.9" fill="#1a1a1a" stroke="#1a1a1a" stroke-width="0.12" text-anchor="end">50</text>
<line x1="55.00" y1="389.66" x2="58.10" y2="389.66" stroke="#1a1a1a" stroke-width="1.0"/>
<text x="51.80" y="392.61" font-size="6.9" fill="#1a1a1a" stroke="#1a1a1a" stroke-width="0.12" text-anchor="end">60</text>
<line x1="55.00" y1="370.37" x2="58.10" y2="370.37" stroke="#1a1a1a" stroke-width="1.0"/>
<text x="51.80" y="373.32" font-size="6.9" fill="#1a1a1a" stroke="#1a1a1a" stroke-width="0.12" text-anchor="end">70</text>
<line x1="55.00" y1="351.08" x2="58.10" y2="351.08" stroke="#1a1a1a" stroke-width="1.0"/>
<text x="51.80" y="354.03" font-size="6.9" fill="#1a1a1a" stroke="#1a1a1a" stroke-width="0.12" text-anchor="end">80</text>
<line x1="55.00" y1="331.79" x2="58.10" y2="331.79" stroke="#1a1a1a" stroke-width="1.0"/>
<text x="51.80" y="334.74" font-size="6.9" fill="#1a1a1a" stroke="#1a1a1a" stroke-width="0.12" text-anchor="end">90</text>
<line x1="55.00" y1="312.50" x2="58.10" y2="312.50" stroke="#1a1a1a" stroke-width="1.0"/>
<text x="51.80" y="315.45" font-size="6.9" fill="#1a1a1a" stroke="#1a1a1a" stroke-width="0.12" text-anchor="end">100</text>
<line x1="65.40" y1="508.40" x2="65.40" y2="511.80" stroke="#1a1a1a" stroke-width="0.9"/>
<text x="65.40" y="521.30" font-size="6.9" fill="#1a1a1a" stroke="#1a1a1a" stroke-width="0.12" text-anchor="middle">0</text>
<line x1="70.39" y1="508.40" x2="70.39" y2="510.30" stroke="#1a1a1a" stroke-width="0.9"/>
<line x1="75.37" y1="508.40" x2="75.37" y2="510.30" stroke="#1a1a1a" stroke-width="0.9"/>
<line x1="80.36" y1="508.40" x2="80.36" y2="510.30" stroke="#1a1a1a" stroke-width="0.9"/>
<line x1="85.34" y1="508.40" x2="85.34" y2="511.80" stroke="#1a1a1a" stroke-width="0.9"/>
<text x="85.34" y="521.30" font-size="6.9" fill="#1a1a1a" stroke="#1a1a1a" stroke-width="0.12" text-anchor="middle">4</text>
<line x1="90.33" y1="508.40" x2="90.33" y2="510.30" stroke="#1a1a1a" stroke-width="0.9"/>
<line x1="95.32" y1="508.40" x2="95.32" y2="510.30" stroke="#1a1a1a" stroke-width="0.9"/>
<line x1="100.30" y1="508.40" x2="100.30" y2="510.30" stroke="#1a1a1a" stroke-width="0.9"/>
<line x1="105.29" y1="508.40" x2="105.29" y2="511.80" stroke="#1a1a1a" stroke-width="0.9"/>
<text x="105.29" y="521.30" font-size="6.9" fill="#1a1a1a" stroke="#1a1a1a" stroke-width="0.12" text-anchor="middle">8</text>
<line x1="110.27" y1="508.40" x2="110.27" y2="510.30" stroke="#1a1a1a" stroke-width="0.9"/>
<line x1="115.26" y1="508.40" x2="115.26" y2="510.30" stroke="#1a1a1a" stroke-width="0.9"/>
<line x1="120.25" y1="508.40" x2="120.25" y2="510.30" stroke="#1a1a1a" stroke-width="0.9"/>
<line x1="125.23" y1="508.40" x2="125.23" y2="511.80" stroke="#1a1a1a" stroke-width="0.9"/>
<text x="125.23" y="521.30" font-size="6.9" fill="#1a1a1a" stroke="#1a1a1a" stroke-width="0.12" text-anchor="middle">12</text>
<line x1="130.22" y1="508.40" x2="130.22" y2="510.30" stroke="#1a1a1a" stroke-width="0.9"/>
<line x1="135.20" y1="508.40" x2="135.20" y2="510.30" stroke="#1a1a1a" stroke-width="0.9"/>
<line x1="140.19" y1="508.40" x2="140.19" y2="510.30" stroke="#1a1a1a" stroke-width="0.9"/>
<line x1="145.18" y1="508.40" x2="145.18" y2="511.80" stroke="#1a1a1a" stroke-width="0.9"/>
<text x="145.18" y="521.30" font-size="6.9" fill="#1a1a1a" stroke="#1a1a1a" stroke-width="0.12" text-anchor="middle">16</text>
<line x1="150.16" y1="508.40" x2="150.16" y2="510.30" stroke="#1a1a1a" stroke-width="0.9"/>
<line x1="155.15" y1="508.40" x2="155.15" y2="510.30" stroke="#1a1a1a" stroke-width="0.9"/>
<line x1="160.13" y1="508.40" x2="160.13" y2="510.30" stroke="#1a1a1a" stroke-width="0.9"/>
<line x1="165.12" y1="508.40" x2="165.12" y2="511.80" stroke="#1a1a1a" stroke-width="0.9"/>
<text x="165.12" y="521.30" font-size="6.9" fill="#1a1a1a" stroke="#1a1a1a" stroke-width="0.12" text-anchor="middle">20</text>
<line x1="170.11" y1="508.40" x2="170.11" y2="510.30" stroke="#1a1a1a" stroke-width="0.9"/>
<line x1="175.09" y1="508.40" x2="175.09" y2="510.30" stroke="#1a1a1a" stroke-width="0.9"/>
<line x1="180.08" y1="508.40" x2="180.08" y2="510.30" stroke="#1a1a1a" stroke-width="0.9"/>
<line x1="185.06" y1="508.40" x2="185.06" y2="511.80" stroke="#1a1a1a" stroke-width="0.9"/>
<text x="185.06" y="521.30" font-size="6.9" fill="#1a1a1a" stroke="#1a1a1a" stroke-width="0.12" text-anchor="middle">24</text>
<line x1="190.05" y1="508.40" x2="190.05" y2="510.30" stroke="#1a1a1a" stroke-width="0.9"/>
<line x1="195.04" y1="508.40" x2="195.04" y2="510.30" stroke="#1a1a1a" stroke-width="0.9"/>
<line x1="200.02" y1="508.40" x2="200.02" y2="510.30" stroke="#1a1a1a" stroke-width="0.9"/>
<line x1="205.01" y1="508.40" x2="205.01" y2="511.80" stroke="#1a1a1a" stroke-width="0.9"/>
<text x="205.01" y="521.30" font-size="6.9" fill="#1a1a1a" stroke="#1a1a1a" stroke-width="0.12" text-anchor="middle">28</text>
<line x1="209.99" y1="508.40" x2="209.99" y2="510.30" stroke="#1a1a1a" stroke-width="0.9"/>
<line x1="214.98" y1="508.40" x2="214.98" y2="510.30" stroke="#1a1a1a" stroke-width="0.9"/>
<line x1="219.97" y1="508.40" x2="219.97" y2="510.30" stroke="#1a1a1a" stroke-width="0.9"/>
<line x1="224.95" y1="508.40" x2="224.95" y2="511.80" stroke="#1a1a1a" stroke-width="0.9"/>
<text x="224.95" y="521.30" font-size="6.9" fill="#1a1a1a" stroke="#1a1a1a" stroke-width="0.12" text-anchor="middle">32</text>
<line x1="229.94" y1="508.40" x2="229.94" y2="510.30" stroke="#1a1a1a" stroke-width="0.9"/>
<line x1="234.92" y1="508.40" x2="234.92" y2="510.30" stroke="#1a1a1a" stroke-width="0.9"/>
<line x1="239.91" y1="508.40" x2="239.91" y2="510.30" stroke="#1a1a1a" stroke-width="0.9"/>
<line x1="244.90" y1="508.40" x2="244.90" y2="511.80" stroke="#1a1a1a" stroke-width="0.9"/>
<text x="244.90" y="521.30" font-size="6.9" fill="#1a1a1a" stroke="#1a1a1a" stroke-width="0.12" text-anchor="middle">36</text>
<line x1="249.88" y1="508.40" x2="249.88" y2="510.30" stroke="#1a1a1a" stroke-width="0.9"/>
<line x1="254.87" y1="508.40" x2="254.87" y2="510.30" stroke="#1a1a1a" stroke-width="0.9"/>
<line x1="259.85" y1="508.40" x2="259.85" y2="510.30" stroke="#1a1a1a" stroke-width="0.9"/>
<line x1="264.84" y1="508.40" x2="264.84" y2="511.80" stroke="#1a1a1a" stroke-width="0.9"/>
<text x="264.84" y="521.30" font-size="6.9" fill="#1a1a1a" stroke="#1a1a1a" stroke-width="0.12" text-anchor="middle">40</text>
<line x1="269.83" y1="508.40" x2="269.83" y2="510.30" stroke="#1a1a1a" stroke-width="0.9"/>
<line x1="274.81" y1="508.40" x2="274.81" y2="510.30" stroke="#1a1a1a" stroke-width="0.9"/>
<line x1="279.80" y1="508.40" x2="279.80" y2="510.30" stroke="#1a1a1a" stroke-width="0.9"/>
<line x1="284.78" y1="508.40" x2="284.78" y2="511.80" stroke="#1a1a1a" stroke-width="0.9"/>
<text x="284.78" y="521.30" font-size="6.9" fill="#1a1a1a" stroke="#1a1a1a" stroke-width="0.12" text-anchor="middle">44</text>
<line x1="289.77" y1="508.40" x2="289.77" y2="510.30" stroke="#1a1a1a" stroke-width="0.9"/>
<line x1="294.76" y1="508.40" x2="294.76" y2="510.30" stroke="#1a1a1a" stroke-width="0.9"/>
<line x1="299.74" y1="508.40" x2="299.74" y2="510.30" stroke="#1a1a1a" stroke-width="0.9"/>
<line x1="304.73" y1="508.40" x2="304.73" y2="511.80" stroke="#1a1a1a" stroke-width="0.9"/>
<text x="304.73" y="521.30" font-size="6.9" fill="#1a1a1a" stroke="#1a1a1a" stroke-width="0.12" text-anchor="middle">48</text>
<line x1="309.71" y1="508.40" x2="309.71" y2="510.30" stroke="#1a1a1a" stroke-width="0.9"/>
<line x1="314.70" y1="508.40" x2="314.70" y2="510.30" stroke="#1a1a1a" stroke-width="0.9"/>
<line x1="319.69" y1="508.40" x2="319.69" y2="510.30" stroke="#1a1a1a" stroke-width="0.9"/>
<line x1="324.67" y1="508.40" x2="324.67" y2="511.80" stroke="#1a1a1a" stroke-width="0.9"/>
<text x="324.67" y="521.30" font-size="6.9" fill="#1a1a1a" stroke="#1a1a1a" stroke-width="0.12" text-anchor="middle">52</text>
<line x1="329.66" y1="508.40" x2="329.66" y2="510.30" stroke="#1a1a1a" stroke-width="0.9"/>
<line x1="334.64" y1="508.40" x2="334.64" y2="510.30" stroke="#1a1a1a" stroke-width="0.9"/>
<line x1="339.63" y1="508.40" x2="339.63" y2="510.30" stroke="#1a1a1a" stroke-width="0.9"/>
<line x1="344.62" y1="508.40" x2="344.62" y2="511.80" stroke="#1a1a1a" stroke-width="0.9"/>
<text x="344.62" y="521.30" font-size="6.9" fill="#1a1a1a" stroke="#1a1a1a" stroke-width="0.12" text-anchor="middle">56</text>
<line x1="349.60" y1="508.40" x2="349.60" y2="510.30" stroke="#1a1a1a" stroke-width="0.9"/>
<line x1="354.59" y1="508.40" x2="354.59" y2="510.30" stroke="#1a1a1a" stroke-width="0.9"/>
<line x1="359.57" y1="508.40" x2="359.57" y2="510.30" stroke="#1a1a1a" stroke-width="0.9"/>
<line x1="364.56" y1="508.40" x2="364.56" y2="511.80" stroke="#1a1a1a" stroke-width="0.9"/>
<text x="364.56" y="521.30" font-size="6.9" fill="#1a1a1a" stroke="#1a1a1a" stroke-width="0.12" text-anchor="middle">60</text>
<line x1="369.55" y1="508.40" x2="369.55" y2="510.30" stroke="#1a1a1a" stroke-width="0.9"/>
<line x1="374.53" y1="508.40" x2="374.53" y2="510.30" stroke="#1a1a1a" stroke-width="0.9"/>
<line x1="379.52" y1="508.40" x2="379.52" y2="510.30" stroke="#1a1a1a" stroke-width="0.9"/>
<line x1="384.50" y1="508.40" x2="384.50" y2="511.80" stroke="#1a1a1a" stroke-width="0.9"/>
<text x="384.50" y="521.30" font-size="6.9" fill="#1a1a1a" stroke="#1a1a1a" stroke-width="0.12" text-anchor="middle">64</text>
<line x1="389.49" y1="508.40" x2="389.49" y2="510.30" stroke="#1a1a1a" stroke-width="0.9"/>
<line x1="394.48" y1="508.40" x2="394.48" y2="510.30" stroke="#1a1a1a" stroke-width="0.9"/>
<line x1="399.46" y1="508.40" x2="399.46" y2="510.30" stroke="#1a1a1a" stroke-width="0.9"/>
<line x1="404.45" y1="508.40" x2="404.45" y2="511.80" stroke="#1a1a1a" stroke-width="0.9"/>
<text x="404.45" y="521.30" font-size="6.9" fill="#1a1a1a" stroke="#1a1a1a" stroke-width="0.12" text-anchor="middle">68</text>
<line x1="409.43" y1="508.40" x2="409.43" y2="510.30" stroke="#1a1a1a" stroke-width="0.9"/>
<line x1="414.42" y1="508.40" x2="414.42" y2="510.30" stroke="#1a1a1a" stroke-width="0.9"/>
<line x1="419.41" y1="508.40" x2="419.41" y2="510.30" stroke="#1a1a1a" stroke-width="0.9"/>
<line x1="424.39" y1="508.40" x2="424.39" y2="511.80" stroke="#1a1a1a" stroke-width="0.9"/>
<text x="424.39" y="521.30" font-size="6.9" fill="#1a1a1a" stroke="#1a1a1a" stroke-width="0.12" text-anchor="middle">72</text>
<line x1="429.38" y1="508.40" x2="429.38" y2="510.30" stroke="#1a1a1a" stroke-width="0.9"/>
<line x1="434.36" y1="508.40" x2="434.36" y2="510.30" stroke="#1a1a1a" stroke-width="0.9"/>
<line x1="439.35" y1="508.40" x2="439.35" y2="510.30" stroke="#1a1a1a" stroke-width="0.9"/>
<line x1="444.34" y1="508.40" x2="444.34" y2="511.80" stroke="#1a1a1a" stroke-width="0.9"/>
<text x="444.34" y="521.30" font-size="6.9" fill="#1a1a1a" stroke="#1a1a1a" stroke-width="0.12" text-anchor="middle">76</text>
<line x1="449.32" y1="508.40" x2="449.32" y2="510.30" stroke="#1a1a1a" stroke-width="0.9"/>
<line x1="454.31" y1="508.40" x2="454.31" y2="510.30" stroke="#1a1a1a" stroke-width="0.9"/>
<line x1="459.29" y1="508.40" x2="459.29" y2="510.30" stroke="#1a1a1a" stroke-width="0.9"/>
<line x1="464.28" y1="508.40" x2="464.28" y2="511.80" stroke="#1a1a1a" stroke-width="0.9"/>
<text x="464.28" y="521.30" font-size="6.9" fill="#1a1a1a" stroke="#1a1a1a" stroke-width="0.12" text-anchor="middle">80</text>
<line x1="469.27" y1="508.40" x2="469.27" y2="510.30" stroke="#1a1a1a" stroke-width="0.9"/>
<line x1="474.25" y1="508.40" x2="474.25" y2="510.30" stroke="#1a1a1a" stroke-width="0.9"/>
<line x1="479.24" y1="508.40" x2="479.24" y2="510.30" stroke="#1a1a1a" stroke-width="0.9"/>
<line x1="484.22" y1="508.40" x2="484.22" y2="511.80" stroke="#1a1a1a" stroke-width="0.9"/>
<text x="484.22" y="521.30" font-size="6.9" fill="#1a1a1a" stroke="#1a1a1a" stroke-width="0.12" text-anchor="middle">84</text>
<line x1="489.21" y1="508.40" x2="489.21" y2="510.30" stroke="#1a1a1a" stroke-width="0.9"/>
<line x1="494.20" y1="508.40" x2="494.20" y2="510.30" stroke="#1a1a1a" stroke-width="0.9"/>
<line x1="499.18" y1="508.40" x2="499.18" y2="510.30" stroke="#1a1a1a" stroke-width="0.9"/>
<line x1="504.17" y1="508.40" x2="504.17" y2="511.80" stroke="#1a1a1a" stroke-width="0.9"/>
<text x="504.17" y="521.30" font-size="6.9" fill="#1a1a1a" stroke="#1a1a1a" stroke-width="0.12" text-anchor="middle">88</text>
<text x="0" y="0" font-size="8.9" fill="#1a1a1a" text-anchor="middle" textLength="156.4" lengthAdjust="spacingAndGlyphs" transform="translate(33.5,409.0) rotate(-90)">Patients free of progression or death, %</text>
<text x="266.90" y="534.20" font-size="9.2" fill="#1a1a1a" stroke="#1a1a1a" stroke-width="0.12" textLength="30.50" lengthAdjust="spacingAndGlyphs">Months</text>
<polyline points="62.50,312.50 72.50,312.50 75.50,314.50 77.50,316.50 79.50,317.50 80.50,322.50 81.50,326.50 82.50,328.50 86.50,328.50 90.50,329.50 92.50,330.50 94.50,334.50 95.50,337.50 96.50,344.50 107.50,344.50 109.50,346.50 110.50,348.50 111.50,350.50 115.50,351.50 119.50,351.50 121.50,353.50 125.50,356.50 128.50,358.50 130.50,361.50 136.50,362.50 140.50,364.50 143.50,366.50 153.50,366.50 153.50,371.50 156.50,371.50 156.50,373.50 164.50,373.50 164.50,375.50 173.50,375.50 173.50,377.50 188.50,377.50 188.50,380.50 197.50,380.50 197.50,381.50 216.50,381.50 216.50,382.50 238.50,382.50 238.50,384.50 245.50,384.50 245.50,386.50 247.50,386.50 247.50,388.50 287.50,388.50 287.50,390.50 373.50,390.50 373.50,391.50 485.50,391.50" fill="none" stroke="#152a6d" stroke-width="1.05" stroke-linejoin="miter"/>
<polyline points="65.50,312.50 67.50,312.50 67.50,314.50 69.50,314.50 69.50,316.50 72.50,316.50 72.50,319.50 73.50,319.50 73.50,322.50 74.50,322.50 74.50,325.50 76.50,325.50 76.50,327.50 76.50,327.50 76.50,333.50 77.50,333.50 77.50,334.50 78.50,337.50 79.50,351.50 80.50,362.50 80.50,376.50 82.50,381.50 85.50,383.50 89.50,383.50 92.50,386.50 93.50,390.50 95.50,392.50 96.50,397.50 97.50,400.50 100.50,402.50 102.50,404.50 107.50,404.50 110.50,407.50 114.50,410.50 122.50,410.50 124.50,416.50 126.50,419.50 127.50,422.50 142.50,422.50 142.50,424.50 144.50,424.50 144.50,425.50 154.50,425.50 154.50,428.50 156.50,428.50 156.50,430.50 170.50,430.50 170.50,431.50 179.50,431.50 179.50,433.50 185.50,433.50 185.50,434.50 187.50,434.50 187.50,436.50 284.50,436.50 284.50,438.50 311.50,438.50 311.50,439.50 483.50,439.50" fill="none" stroke="#a3132f" stroke-width="1.05" stroke-linejoin="miter"/>
<polyline points="62.50,312.50 73.50,312.50 75.50,316.50 76.50,319.50 77.50,323.50 78.50,328.50 79.50,329.50 83.50,330.50 84.50,332.50 86.50,333.50 89.50,335.50 90.50,335.50 91.50,340.50 93.50,350.50 94.50,353.50 104.50,353.50 107.50,356.50 107.50,363.50 114.50,363.50 118.50,365.50 121.50,370.50 125.50,374.50 126.50,377.50 130.50,377.50 133.50,380.50 137.50,381.50 140.50,385.50 149.50,385.50 151.50,387.50 153.50,390.50 186.50,390.50 186.50,392.50 195.50,392.50 195.50,395.50 242.50,395.50 242.50,400.50 482.50,400.50" fill="none" stroke="#152a6d" stroke-width="1.05" stroke-linejoin="miter" stroke-dasharray="1.9 1.15"/>
<polyline points="65.50,313.50 66.50,313.50 66.50,317.50 68.50,317.50 68.50,318.50 69.50,320.50 70.50,323.50 71.50,327.50 72.50,330.50 74.50,333.50 74.50,336.50 76.50,340.50 76.50,362.50 77.50,381.50 78.50,388.50 80.50,392.50 84.50,394.50 87.50,395.50 90.50,397.50 90.50,402.50 92.50,407.50 94.50,410.50 96.50,413.50 99.50,417.50 107.50,417.50 109.50,419.50 110.50,422.50 120.50,422.50 120.50,425.50 122.50,433.50 123.50,442.50 140.50,442.50 140.50,447.50 152.50,447.50 152.50,449.50 155.50,449.50 155.50,451.50 168.50,451.50 168.50,454.50 176.50,454.50 176.50,456.50 185.50,456.50 185.50,459.50 309.50,459.50 309.50,461.50 456.50,461.50" fill="none" stroke="#a3132f" stroke-width="1.05" stroke-linejoin="miter" stroke-dasharray="1.9 1.15"/>
<circle cx="62.00" cy="312.50" r="1.55" fill="#c5cae0" stroke="#152a6d" stroke-width="1.15"/>
<circle cx="65.50" cy="312.50" r="1.55" fill="#c5cae0" stroke="#152a6d" stroke-width="1.15"/>
<circle cx="73.10" cy="312.50" r="1.55" fill="#c5cae0" stroke="#152a6d" stroke-width="1.15"/>
<circle cx="76.30" cy="315.50" r="1.55" fill="#c5cae0" stroke="#152a6d" stroke-width="1.15"/>
<circle cx="94.40" cy="334.50" r="1.55" fill="#c5cae0" stroke="#152a6d" stroke-width="1.15"/>
<circle cx="111.70" cy="350.50" r="1.55" fill="#c5cae0" stroke="#152a6d" stroke-width="1.15"/>
<circle cx="119.00" cy="351.50" r="1.55" fill="#c5cae0" stroke="#152a6d" stroke-width="1.15"/>
<circle cx="136.20" cy="362.50" r="1.55" fill="#c5cae0" stroke="#152a6d" stroke-width="1.15"/>
<circle cx="154.60" cy="371.50" r="1.55" fill="#c5cae0" stroke="#152a6d" stroke-width="1.15"/>
<circle cx="260.80" cy="388.50" r="1.55" fill="#c5cae0" stroke="#152a6d" stroke-width="1.15"/>
<circle cx="272.90" cy="388.50" r="1.55" fill="#c5cae0" stroke="#152a6d" stroke-width="1.15"/>
<circle cx="273.90" cy="388.50" r="1.55" fill="#c5cae0" stroke="#152a6d" stroke-width="1.15"/>
<circle cx="279.60" cy="388.50" r="1.55" fill="#c5cae0" stroke="#152a6d" stroke-width="1.15"/>
<circle cx="302.30" cy="390.50" r="1.55" fill="#c5cae0" stroke="#152a6d" stroke-width="1.15"/>
<circle cx="303.22" cy="390.50" r="1.55" fill="#c5cae0" stroke="#152a6d" stroke-width="1.15"/>
<circle cx="304.14" cy="390.50" r="1.55" fill="#c5cae0" stroke="#152a6d" stroke-width="1.15"/>
<circle cx="305.06" cy="390.50" r="1.55" fill="#c5cae0" stroke="#152a6d" stroke-width="1.15"/>
<circle cx="305.98" cy="390.50" r="1.55" fill="#c5cae0" stroke="#152a6d" stroke-width="1.15"/>
<circle cx="306.90" cy="390.50" r="1.55" fill="#c5cae0" stroke="#152a6d" stroke-width="1.15"/>
<circle cx="334.40" cy="390.50" r="1.55" fill="#c5cae0" stroke="#152a6d" stroke-width="1.15"/>
<circle cx="359.80" cy="390.50" r="1.55" fill="#c5cae0" stroke="#152a6d" stroke-width="1.15"/>
<circle cx="364.00" cy="390.50" r="1.55" fill="#c5cae0" stroke="#152a6d" stroke-width="1.15"/>
<circle cx="365.00" cy="390.50" r="1.55" fill="#c5cae0" stroke="#152a6d" stroke-width="1.15"/>
<circle cx="366.00" cy="390.50" r="1.55" fill="#c5cae0" stroke="#152a6d" stroke-width="1.15"/>
<circle cx="367.00" cy="390.50" r="1.55" fill="#c5cae0" stroke="#152a6d" stroke-width="1.15"/>
<circle cx="368.00" cy="390.50" r="1.55" fill="#c5cae0" stroke="#152a6d" stroke-width="1.15"/>
<circle cx="369.00" cy="390.50" r="1.55" fill="#c5cae0" stroke="#152a6d" stroke-width="1.15"/>
<circle cx="370.00" cy="390.50" r="1.55" fill="#c5cae0" stroke="#152a6d" stroke-width="1.15"/>
<circle cx="376.90" cy="391.50" r="1.55" fill="#c5cae0" stroke="#152a6d" stroke-width="1.15"/>
<circle cx="386.20" cy="391.50" r="1.55" fill="#c5cae0" stroke="#152a6d" stroke-width="1.15"/>
<circle cx="391.00" cy="391.50" r="1.55" fill="#c5cae0" stroke="#152a6d" stroke-width="1.15"/>
<circle cx="392.04" cy="391.50" r="1.55" fill="#c5cae0" stroke="#152a6d" stroke-width="1.15"/>
<circle cx="393.09" cy="391.50" r="1.55" fill="#c5cae0" stroke="#152a6d" stroke-width="1.15"/>
<circle cx="394.13" cy="391.50" r="1.55" fill="#c5cae0" stroke="#152a6d" stroke-width="1.15"/>
<circle cx="395.17" cy="391.50" r="1.55" fill="#c5cae0" stroke="#152a6d" stroke-width="1.15"/>
<circle cx="396.21" cy="391.50" r="1.55" fill="#c5cae0" stroke="#152a6d" stroke-width="1.15"/>
<circle cx="397.26" cy="391.50" r="1.55" fill="#c5cae0" stroke="#152a6d" stroke-width="1.15"/>
<circle cx="398.30" cy="391.50" r="1.55" fill="#c5cae0" stroke="#152a6d" stroke-width="1.15"/>
<circle cx="407.20" cy="391.50" r="1.55" fill="#c5cae0" stroke="#152a6d" stroke-width="1.15"/>
<circle cx="422.50" cy="391.50" r="1.55" fill="#c5cae0" stroke="#152a6d" stroke-width="1.15"/>
<circle cx="423.53" cy="391.50" r="1.55" fill="#c5cae0" stroke="#152a6d" stroke-width="1.15"/>
<circle cx="424.57" cy="391.50" r="1.55" fill="#c5cae0" stroke="#152a6d" stroke-width="1.15"/>
<circle cx="425.60" cy="391.50" r="1.55" fill="#c5cae0" stroke="#152a6d" stroke-width="1.15"/>
<circle cx="426.63" cy="391.50" r="1.55" fill="#c5cae0" stroke="#152a6d" stroke-width="1.15"/>
<circle cx="427.67" cy="391.50" r="1.55" fill="#c5cae0" stroke="#152a6d" stroke-width="1.15"/>
<circle cx="428.70" cy="391.50" r="1.55" fill="#c5cae0" stroke="#152a6d" stroke-width="1.15"/>
<circle cx="446.70" cy="391.50" r="1.55" fill="#c5cae0" stroke="#152a6d" stroke-width="1.15"/>
<circle cx="450.80" cy="391.50" r="1.55" fill="#c5cae0" stroke="#152a6d" stroke-width="1.15"/>
<circle cx="451.83" cy="391.50" r="1.55" fill="#c5cae0" stroke="#152a6d" stroke-width="1.15"/>
<circle cx="452.85" cy="391.50" r="1.55" fill="#c5cae0" stroke="#152a6d" stroke-width="1.15"/>
<circle cx="453.88" cy="391.50" r="1.55" fill="#c5cae0" stroke="#152a6d" stroke-width="1.15"/>
<circle cx="454.91" cy="391.50" r="1.55" fill="#c5cae0" stroke="#152a6d" stroke-width="1.15"/>
<circle cx="455.94" cy="391.50" r="1.55" fill="#c5cae0" stroke="#152a6d" stroke-width="1.15"/>
<circle cx="456.96" cy="391.50" r="1.55" fill="#c5cae0" stroke="#152a6d" stroke-width="1.15"/>
<circle cx="457.99" cy="391.50" r="1.55" fill="#c5cae0" stroke="#152a6d" stroke-width="1.15"/>
<circle cx="459.02" cy="391.50" r="1.55" fill="#c5cae0" stroke="#152a6d" stroke-width="1.15"/>
<circle cx="460.05" cy="391.50" r="1.55" fill="#c5cae0" stroke="#152a6d" stroke-width="1.15"/>
<circle cx="461.07" cy="391.50" r="1.55" fill="#c5cae0" stroke="#152a6d" stroke-width="1.15"/>
<circle cx="462.10" cy="391.50" r="1.55" fill="#c5cae0" stroke="#152a6d" stroke-width="1.15"/>
<circle cx="472.90" cy="391.50" r="1.55" fill="#c5cae0" stroke="#152a6d" stroke-width="1.15"/>
<circle cx="478.20" cy="391.50" r="1.55" fill="#c5cae0" stroke="#152a6d" stroke-width="1.15"/>
<circle cx="479.30" cy="391.50" r="1.55" fill="#c5cae0" stroke="#152a6d" stroke-width="1.15"/>
<circle cx="480.40" cy="391.50" r="1.55" fill="#c5cae0" stroke="#152a6d" stroke-width="1.15"/>
<circle cx="481.50" cy="391.50" r="1.55" fill="#c5cae0" stroke="#152a6d" stroke-width="1.15"/>
<circle cx="485.00" cy="391.50" r="1.55" fill="#c5cae0" stroke="#152a6d" stroke-width="1.15"/>
<circle cx="133.10" cy="380.50" r="1.55" fill="#c5cae0" stroke="#152a6d" stroke-width="1.15"/>
<circle cx="151.70" cy="387.50" r="1.55" fill="#c5cae0" stroke="#152a6d" stroke-width="1.15"/>
<circle cx="301.20" cy="400.50" r="1.55" fill="#c5cae0" stroke="#152a6d" stroke-width="1.15"/>
<circle cx="303.50" cy="400.50" r="1.55" fill="#c5cae0" stroke="#152a6d" stroke-width="1.15"/>
<circle cx="331.50" cy="400.50" r="1.55" fill="#c5cae0" stroke="#152a6d" stroke-width="1.15"/>
<circle cx="361.20" cy="400.50" r="1.55" fill="#c5cae0" stroke="#152a6d" stroke-width="1.15"/>
<circle cx="362.30" cy="400.50" r="1.55" fill="#c5cae0" stroke="#152a6d" stroke-width="1.15"/>
<circle cx="363.40" cy="400.50" r="1.55" fill="#c5cae0" stroke="#152a6d" stroke-width="1.15"/>
<circle cx="364.50" cy="400.50" r="1.55" fill="#c5cae0" stroke="#152a6d" stroke-width="1.15"/>
<circle cx="365.60" cy="400.50" r="1.55" fill="#c5cae0" stroke="#152a6d" stroke-width="1.15"/>
<circle cx="389.40" cy="400.50" r="1.55" fill="#c5cae0" stroke="#152a6d" stroke-width="1.15"/>
<circle cx="390.43" cy="400.50" r="1.55" fill="#c5cae0" stroke="#152a6d" stroke-width="1.15"/>
<circle cx="391.47" cy="400.50" r="1.55" fill="#c5cae0" stroke="#152a6d" stroke-width="1.15"/>
<circle cx="392.50" cy="400.50" r="1.55" fill="#c5cae0" stroke="#152a6d" stroke-width="1.15"/>
<circle cx="393.53" cy="400.50" r="1.55" fill="#c5cae0" stroke="#152a6d" stroke-width="1.15"/>
<circle cx="394.57" cy="400.50" r="1.55" fill="#c5cae0" stroke="#152a6d" stroke-width="1.15"/>
<circle cx="395.60" cy="400.50" r="1.55" fill="#c5cae0" stroke="#152a6d" stroke-width="1.15"/>
<circle cx="403.70" cy="400.50" r="1.55" fill="#c5cae0" stroke="#152a6d" stroke-width="1.15"/>
<circle cx="419.80" cy="400.50" r="1.55" fill="#c5cae0" stroke="#152a6d" stroke-width="1.15"/>
<circle cx="420.88" cy="400.50" r="1.55" fill="#c5cae0" stroke="#152a6d" stroke-width="1.15"/>
<circle cx="421.96" cy="400.50" r="1.55" fill="#c5cae0" stroke="#152a6d" stroke-width="1.15"/>
<circle cx="423.04" cy="400.50" r="1.55" fill="#c5cae0" stroke="#152a6d" stroke-width="1.15"/>
<circle cx="424.12" cy="400.50" r="1.55" fill="#c5cae0" stroke="#152a6d" stroke-width="1.15"/>
<circle cx="425.20" cy="400.50" r="1.55" fill="#c5cae0" stroke="#152a6d" stroke-width="1.15"/>
<circle cx="443.20" cy="400.50" r="1.55" fill="#c5cae0" stroke="#152a6d" stroke-width="1.15"/>
<circle cx="449.40" cy="400.50" r="1.55" fill="#c5cae0" stroke="#152a6d" stroke-width="1.15"/>
<circle cx="450.35" cy="400.50" r="1.55" fill="#c5cae0" stroke="#152a6d" stroke-width="1.15"/>
<circle cx="451.30" cy="400.50" r="1.55" fill="#c5cae0" stroke="#152a6d" stroke-width="1.15"/>
<circle cx="452.25" cy="400.50" r="1.55" fill="#c5cae0" stroke="#152a6d" stroke-width="1.15"/>
<circle cx="453.20" cy="400.50" r="1.55" fill="#c5cae0" stroke="#152a6d" stroke-width="1.15"/>
<circle cx="454.15" cy="400.50" r="1.55" fill="#c5cae0" stroke="#152a6d" stroke-width="1.15"/>
<circle cx="455.10" cy="400.50" r="1.55" fill="#c5cae0" stroke="#152a6d" stroke-width="1.15"/>
<circle cx="456.05" cy="400.50" r="1.55" fill="#c5cae0" stroke="#152a6d" stroke-width="1.15"/>
<circle cx="457.00" cy="400.50" r="1.55" fill="#c5cae0" stroke="#152a6d" stroke-width="1.15"/>
<circle cx="457.95" cy="400.50" r="1.55" fill="#c5cae0" stroke="#152a6d" stroke-width="1.15"/>
<circle cx="458.90" cy="400.50" r="1.55" fill="#c5cae0" stroke="#152a6d" stroke-width="1.15"/>
<circle cx="476.40" cy="400.50" r="1.55" fill="#c5cae0" stroke="#152a6d" stroke-width="1.15"/>
<circle cx="477.43" cy="400.50" r="1.55" fill="#c5cae0" stroke="#152a6d" stroke-width="1.15"/>
<circle cx="478.47" cy="400.50" r="1.55" fill="#c5cae0" stroke="#152a6d" stroke-width="1.15"/>
<circle cx="479.50" cy="400.50" r="1.55" fill="#c5cae0" stroke="#152a6d" stroke-width="1.15"/>
<circle cx="482.30" cy="400.50" r="1.55" fill="#c5cae0" stroke="#152a6d" stroke-width="1.15"/>
<circle cx="78.00" cy="334.50" r="1.55" fill="#ebc5cc" stroke="#a3132f" stroke-width="1.15"/>
<circle cx="95.70" cy="393.50" r="1.55" fill="#ebc5cc" stroke="#a3132f" stroke-width="1.15"/>
<circle cx="97.70" cy="399.50" r="1.55" fill="#ebc5cc" stroke="#a3132f" stroke-width="1.15"/>
<circle cx="126.20" cy="420.50" r="1.55" fill="#ebc5cc" stroke="#a3132f" stroke-width="1.15"/>
<circle cx="182.10" cy="432.50" r="1.55" fill="#ebc5cc" stroke="#a3132f" stroke-width="1.15"/>
<circle cx="185.00" cy="434.50" r="1.55" fill="#ebc5cc" stroke="#a3132f" stroke-width="1.15"/>
<circle cx="214.70" cy="436.50" r="1.55" fill="#ebc5cc" stroke="#a3132f" stroke-width="1.15"/>
<circle cx="241.50" cy="436.50" r="1.55" fill="#ebc5cc" stroke="#a3132f" stroke-width="1.15"/>
<circle cx="247.90" cy="436.50" r="1.55" fill="#ebc5cc" stroke="#a3132f" stroke-width="1.15"/>
<circle cx="320.30" cy="439.50" r="1.55" fill="#ebc5cc" stroke="#a3132f" stroke-width="1.15"/>
<circle cx="362.10" cy="439.50" r="1.55" fill="#ebc5cc" stroke="#a3132f" stroke-width="1.15"/>
<circle cx="363.02" cy="439.50" r="1.55" fill="#ebc5cc" stroke="#a3132f" stroke-width="1.15"/>
<circle cx="363.94" cy="439.50" r="1.55" fill="#ebc5cc" stroke="#a3132f" stroke-width="1.15"/>
<circle cx="364.86" cy="439.50" r="1.55" fill="#ebc5cc" stroke="#a3132f" stroke-width="1.15"/>
<circle cx="365.78" cy="439.50" r="1.55" fill="#ebc5cc" stroke="#a3132f" stroke-width="1.15"/>
<circle cx="366.70" cy="439.50" r="1.55" fill="#ebc5cc" stroke="#a3132f" stroke-width="1.15"/>
<circle cx="369.60" cy="439.50" r="1.55" fill="#ebc5cc" stroke="#a3132f" stroke-width="1.15"/>
<circle cx="392.50" cy="439.50" r="1.55" fill="#ebc5cc" stroke="#a3132f" stroke-width="1.15"/>
<circle cx="393.58" cy="439.50" r="1.55" fill="#ebc5cc" stroke="#a3132f" stroke-width="1.15"/>
<circle cx="394.66" cy="439.50" r="1.55" fill="#ebc5cc" stroke="#a3132f" stroke-width="1.15"/>
<circle cx="395.74" cy="439.50" r="1.55" fill="#ebc5cc" stroke="#a3132f" stroke-width="1.15"/>
<circle cx="396.82" cy="439.50" r="1.55" fill="#ebc5cc" stroke="#a3132f" stroke-width="1.15"/>
<circle cx="397.90" cy="439.50" r="1.55" fill="#ebc5cc" stroke="#a3132f" stroke-width="1.15"/>
<circle cx="407.10" cy="439.50" r="1.55" fill="#ebc5cc" stroke="#a3132f" stroke-width="1.15"/>
<circle cx="415.20" cy="439.50" r="1.55" fill="#ebc5cc" stroke="#a3132f" stroke-width="1.15"/>
<circle cx="423.20" cy="439.50" r="1.55" fill="#ebc5cc" stroke="#a3132f" stroke-width="1.15"/>
<circle cx="424.20" cy="439.50" r="1.55" fill="#ebc5cc" stroke="#a3132f" stroke-width="1.15"/>
<circle cx="425.20" cy="439.50" r="1.55" fill="#ebc5cc" stroke="#a3132f" stroke-width="1.15"/>
<circle cx="426.20" cy="439.50" r="1.55" fill="#ebc5cc" stroke="#a3132f" stroke-width="1.15"/>
<circle cx="427.20" cy="439.50" r="1.55" fill="#ebc5cc" stroke="#a3132f" stroke-width="1.15"/>
<circle cx="428.20" cy="439.50" r="1.55" fill="#ebc5cc" stroke="#a3132f" stroke-width="1.15"/>
<circle cx="429.20" cy="439.50" r="1.55" fill="#ebc5cc" stroke="#a3132f" stroke-width="1.15"/>
<circle cx="430.20" cy="439.50" r="1.55" fill="#ebc5cc" stroke="#a3132f" stroke-width="1.15"/>
<circle cx="435.60" cy="439.50" r="1.55" fill="#ebc5cc" stroke="#a3132f" stroke-width="1.15"/>
<circle cx="438.90" cy="439.50" r="1.55" fill="#ebc5cc" stroke="#a3132f" stroke-width="1.15"/>
<circle cx="451.80" cy="439.50" r="1.55" fill="#ebc5cc" stroke="#a3132f" stroke-width="1.15"/>
<circle cx="452.83" cy="439.50" r="1.55" fill="#ebc5cc" stroke="#a3132f" stroke-width="1.15"/>
<circle cx="453.86" cy="439.50" r="1.55" fill="#ebc5cc" stroke="#a3132f" stroke-width="1.15"/>
<circle cx="454.89" cy="439.50" r="1.55" fill="#ebc5cc" stroke="#a3132f" stroke-width="1.15"/>
<circle cx="455.91" cy="439.50" r="1.55" fill="#ebc5cc" stroke="#a3132f" stroke-width="1.15"/>
<circle cx="456.94" cy="439.50" r="1.55" fill="#ebc5cc" stroke="#a3132f" stroke-width="1.15"/>
<circle cx="457.97" cy="439.50" r="1.55" fill="#ebc5cc" stroke="#a3132f" stroke-width="1.15"/>
<circle cx="459.00" cy="439.50" r="1.55" fill="#ebc5cc" stroke="#a3132f" stroke-width="1.15"/>
<circle cx="483.30" cy="439.50" r="1.55" fill="#ebc5cc" stroke="#a3132f" stroke-width="1.15"/>
<circle cx="92.50" cy="407.50" r="1.55" fill="#ebc5cc" stroke="#a3132f" stroke-width="1.15"/>
<circle cx="94.40" cy="409.50" r="1.55" fill="#ebc5cc" stroke="#a3132f" stroke-width="1.15"/>
<circle cx="212.00" cy="458.50" r="1.55" fill="#ebc5cc" stroke="#a3132f" stroke-width="1.15"/>
<circle cx="244.80" cy="458.50" r="1.55" fill="#ebc5cc" stroke="#a3132f" stroke-width="1.15"/>
<circle cx="317.50" cy="461.50" r="1.55" fill="#ebc5cc" stroke="#a3132f" stroke-width="1.15"/>
<circle cx="359.40" cy="461.50" r="1.55" fill="#ebc5cc" stroke="#a3132f" stroke-width="1.15"/>
<circle cx="360.27" cy="461.50" r="1.55" fill="#ebc5cc" stroke="#a3132f" stroke-width="1.15"/>
<circle cx="361.15" cy="461.50" r="1.55" fill="#ebc5cc" stroke="#a3132f" stroke-width="1.15"/>
<circle cx="362.02" cy="461.50" r="1.55" fill="#ebc5cc" stroke="#a3132f" stroke-width="1.15"/>
<circle cx="362.90" cy="461.50" r="1.55" fill="#ebc5cc" stroke="#a3132f" stroke-width="1.15"/>
<circle cx="366.20" cy="461.50" r="1.55" fill="#ebc5cc" stroke="#a3132f" stroke-width="1.15"/>
<circle cx="390.40" cy="461.50" r="1.55" fill="#ebc5cc" stroke="#a3132f" stroke-width="1.15"/>
<circle cx="391.47" cy="461.50" r="1.55" fill="#ebc5cc" stroke="#a3132f" stroke-width="1.15"/>
<circle cx="392.53" cy="461.50" r="1.55" fill="#ebc5cc" stroke="#a3132f" stroke-width="1.15"/>
<circle cx="393.60" cy="461.50" r="1.55" fill="#ebc5cc" stroke="#a3132f" stroke-width="1.15"/>
<circle cx="422.20" cy="461.50" r="1.55" fill="#ebc5cc" stroke="#a3132f" stroke-width="1.15"/>
<circle cx="448.30" cy="461.50" r="1.55" fill="#ebc5cc" stroke="#a3132f" stroke-width="1.15"/>
<circle cx="449.26" cy="461.50" r="1.55" fill="#ebc5cc" stroke="#a3132f" stroke-width="1.15"/>
<circle cx="450.21" cy="461.50" r="1.55" fill="#ebc5cc" stroke="#a3132f" stroke-width="1.15"/>
<circle cx="451.17" cy="461.50" r="1.55" fill="#ebc5cc" stroke="#a3132f" stroke-width="1.15"/>
<circle cx="452.13" cy="461.50" r="1.55" fill="#ebc5cc" stroke="#a3132f" stroke-width="1.15"/>
<circle cx="453.09" cy="461.50" r="1.55" fill="#ebc5cc" stroke="#a3132f" stroke-width="1.15"/>
<circle cx="454.04" cy="461.50" r="1.55" fill="#ebc5cc" stroke="#a3132f" stroke-width="1.15"/>
<circle cx="455.00" cy="461.50" r="1.55" fill="#ebc5cc" stroke="#a3132f" stroke-width="1.15"/>
<line x1="60.20" y1="481.40" x2="82.80" y2="481.40" stroke="#b84658" stroke-width="1.3"/>
<line x1="60.20" y1="488.70" x2="82.80" y2="488.70" stroke="#b84658" stroke-width="1.3" stroke-dasharray="1.9 1.1"/>
<line x1="60.20" y1="496.10" x2="82.80" y2="496.10" stroke="#56659a" stroke-width="1.5"/>
<line x1="60.20" y1="503.30" x2="82.80" y2="503.30" stroke="#2c3f80" stroke-width="1.2" stroke-dasharray="1.9 1.1"/>
<text x="89.90" y="484.00" font-size="6.6" fill="#a3132f" stroke="#a3132f" stroke-width="0.12" textLength="67.70" lengthAdjust="spacingAndGlyphs">PBO + BSC ≥ 2 risk factors</text>
<text x="89.90" y="491.20" font-size="6.6" fill="#a3132f" stroke="#a3132f" stroke-width="0.12" textLength="67.70" lengthAdjust="spacingAndGlyphs">PBO + BSC ≥ 3 risk factors</text>
<text x="89.90" y="498.60" font-size="6.6" fill="#1d3375" stroke="#1d3375" stroke-width="0.12" textLength="64.00" lengthAdjust="spacingAndGlyphs">BV + BSC ≥ 2 risk factors</text>
<text x="89.90" y="505.50" font-size="6.6" fill="#1d3375" stroke="#1d3375" stroke-width="0.12" textLength="64.00" lengthAdjust="spacingAndGlyphs">BV + BSC ≥ 3 risk factors</text>
<text x="178.00" y="476.70" font-size="6.3" fill="#1a1a1a" stroke="#1a1a1a" stroke-width="0.12" textLength="3.90" lengthAdjust="spacingAndGlyphs">N</text>
<text x="191.60" y="476.50" font-size="6.3" fill="#1a1a1a" stroke="#1a1a1a" stroke-width="0.12" textLength="17.80" lengthAdjust="spacingAndGlyphs">Events</text>
<text x="219.00" y="476.30" font-size="6.3" fill="#1a1a1a" stroke="#1a1a1a" stroke-width="0.12" textLength="53.70" lengthAdjust="spacingAndGlyphs">Median PFS (95% CI)</text>
<text x="285.00" y="476.70" font-size="6.3" fill="#1a1a1a" stroke="#1a1a1a" stroke-width="0.12" textLength="56.30" lengthAdjust="spacingAndGlyphs">Stratified HR (95% CI)</text>
<text x="175.40" y="483.80" font-size="6.3" fill="#a3132f" stroke="#a3132f" stroke-width="0.12" textLength="9.10" lengthAdjust="spacingAndGlyphs">136</text>
<text x="195.80" y="483.80" font-size="6.3" fill="#a3132f" stroke="#a3132f" stroke-width="0.12" textLength="6.20" lengthAdjust="spacingAndGlyphs">86</text>
<text x="226.00" y="483.80" font-size="6.3" fill="#a3132f" stroke="#a3132f" stroke-width="0.12" textLength="7.40" lengthAdjust="spacingAndGlyphs">9.7</text>
<text x="236.00" y="483.80" font-size="6.3" fill="#a3132f" stroke="#a3132f" stroke-width="0.12" textLength="25.10" lengthAdjust="spacingAndGlyphs">(6.1-15.8)</text>
<text x="177.10" y="490.90" font-size="6.3" fill="#a3132f" stroke="#a3132f" stroke-width="0.12" textLength="6.70" lengthAdjust="spacingAndGlyphs">84</text>
<text x="195.80" y="490.90" font-size="6.3" fill="#a3132f" stroke="#a3132f" stroke-width="0.12" textLength="6.20" lengthAdjust="spacingAndGlyphs">63</text>
<text x="226.00" y="490.90" font-size="6.3" fill="#a3132f" stroke="#a3132f" stroke-width="0.12" textLength="7.40" lengthAdjust="spacingAndGlyphs">6.3</text>
<text x="236.00" y="490.90" font-size="6.3" fill="#a3132f" stroke="#a3132f" stroke-width="0.12" textLength="25.10" lengthAdjust="spacingAndGlyphs">(3.3-11.9)</text>
<text x="175.40" y="497.40" font-size="6.3" fill="#1d3375" stroke="#1d3375" stroke-width="0.12" textLength="9.10" lengthAdjust="spacingAndGlyphs">144</text>
<text x="195.80" y="497.40" font-size="6.3" fill="#1d3375" stroke="#1d3375" stroke-width="0.12" textLength="6.20" lengthAdjust="spacingAndGlyphs">56</text>
<text x="238.60" y="496.60" font-size="6.3" fill="#1d3375" stroke="#1d3375" stroke-width="0.12" textLength="5.80" lengthAdjust="spacingAndGlyphs">---</text>
<text x="285.40" y="497.40" font-size="6.3" fill="#1d3375" stroke="#1d3375" stroke-width="0.12" textLength="50.30" lengthAdjust="spacingAndGlyphs">0.424 (0.302-0.596)</text>
<text x="177.10" y="504.40" font-size="6.3" fill="#1d3375" stroke="#1d3375" stroke-width="0.12" textLength="6.70" lengthAdjust="spacingAndGlyphs">83</text>
<text x="195.80" y="504.40" font-size="6.3" fill="#1d3375" stroke="#1d3375" stroke-width="0.12" textLength="6.20" lengthAdjust="spacingAndGlyphs">36</text>
<text x="238.60" y="503.60" font-size="6.3" fill="#1d3375" stroke="#1d3375" stroke-width="0.12" textLength="5.80" lengthAdjust="spacingAndGlyphs">---</text>
<text x="286.10" y="504.40" font-size="6.3" fill="#1d3375" stroke="#1d3375" stroke-width="0.12" textLength="49.50" lengthAdjust="spacingAndGlyphs">0.390 (0.255-0.596)</text>
<line x1="6.90" y1="549.30" x2="15.90" y2="549.30" stroke="#b84658" stroke-width="1.1"/>
<line x1="6.90" y1="559.10" x2="15.90" y2="559.10" stroke="#56659a" stroke-width="1.3"/>
<line x1="6.90" y1="579.10" x2="15.90" y2="579.10" stroke="#c25a6c" stroke-width="1.8" stroke-dasharray="2.1 1.35"/>
<line x1="6.90" y1="588.90" x2="15.90" y2="588.90" stroke="#5d6c9e" stroke-width="1.8" stroke-dasharray="2.1 1.35"/>
<text x="21.90" y="541.80" font-size="5.3" fill="#1a1a1a" stroke="#1a1a1a" stroke-width="0.05" textLength="74.30" lengthAdjust="spacingAndGlyphs">No. at risk (events ≥ 2 risk factors)</text>
<text x="20.80" y="551.00" font-size="5.3" fill="#a3132f" stroke="#a3132f" stroke-width="0.05" textLength="31.30" lengthAdjust="spacingAndGlyphs">Placebo + BSC</text>
<text x="20.20" y="561.00" font-size="5.3" fill="#1d3375" stroke="#1d3375" stroke-width="0.05" textLength="20.20" lengthAdjust="spacingAndGlyphs">BV + BSC</text>
<text x="21.90" y="571.00" font-size="5.3" fill="#1a1a1a" stroke="#1a1a1a" stroke-width="0.05" textLength="74.30" lengthAdjust="spacingAndGlyphs">No. at risk (events ≥ 3 risk factors)</text>
<text x="20.20" y="581.00" font-size="5.3" fill="#a3132f" stroke="#a3132f" stroke-width="0.05" textLength="30.00" lengthAdjust="spacingAndGlyphs">Placebo+BSC</text>
<text x="20.20" y="590.80" font-size="5.3" fill="#1d3375" stroke="#1d3375" stroke-width="0.05" textLength="17.30" lengthAdjust="spacingAndGlyphs">BV+BSC</text>
<text x="65.40" y="551.00" font-size="5.3" fill="#a3132f" stroke="#a3132f" stroke-width="0.05" text-anchor="middle" textLength="15.01" lengthAdjust="spacingAndGlyphs">136 (0)</text>
<text x="85.34" y="551.00" font-size="5.3" fill="#a3132f" stroke="#a3132f" stroke-width="0.05" text-anchor="middle" textLength="15.01" lengthAdjust="spacingAndGlyphs">85 (48)</text>
<text x="105.29" y="551.00" font-size="5.3" fill="#a3132f" stroke="#a3132f" stroke-width="0.05" text-anchor="middle" textLength="15.01" lengthAdjust="spacingAndGlyphs">68 (63)</text>
<text x="125.23" y="551.00" font-size="5.3" fill="#a3132f" stroke="#a3132f" stroke-width="0.05" text-anchor="middle" textLength="15.01" lengthAdjust="spacingAndGlyphs">59 (72)</text>
<text x="145.18" y="551.00" font-size="5.3" fill="#a3132f" stroke="#a3132f" stroke-width="0.05" text-anchor="middle" textLength="15.01" lengthAdjust="spacingAndGlyphs">53 (77)</text>
<text x="165.12" y="551.00" font-size="5.3" fill="#a3132f" stroke="#a3132f" stroke-width="0.05" text-anchor="middle" textLength="15.01" lengthAdjust="spacingAndGlyphs">50 (80)</text>
<text x="185.06" y="551.00" font-size="5.3" fill="#a3132f" stroke="#a3132f" stroke-width="0.05" text-anchor="middle" textLength="15.01" lengthAdjust="spacingAndGlyphs">45 (83)</text>
<text x="205.01" y="551.00" font-size="5.3" fill="#a3132f" stroke="#a3132f" stroke-width="0.05" text-anchor="middle" textLength="15.01" lengthAdjust="spacingAndGlyphs">44 (84)</text>
<text x="224.95" y="551.00" font-size="5.3" fill="#a3132f" stroke="#a3132f" stroke-width="0.05" text-anchor="middle" textLength="15.01" lengthAdjust="spacingAndGlyphs">43 (84)</text>
<text x="244.90" y="551.00" font-size="5.3" fill="#a3132f" stroke="#a3132f" stroke-width="0.05" text-anchor="middle" textLength="15.01" lengthAdjust="spacingAndGlyphs">42 (84)</text>
<text x="264.84" y="551.00" font-size="5.3" fill="#a3132f" stroke="#a3132f" stroke-width="0.05" text-anchor="middle" textLength="15.01" lengthAdjust="spacingAndGlyphs">41 (84)</text>
<text x="284.78" y="551.00" font-size="5.3" fill="#a3132f" stroke="#a3132f" stroke-width="0.05" text-anchor="middle" textLength="15.01" lengthAdjust="spacingAndGlyphs">40 (85)</text>
<text x="304.73" y="551.00" font-size="5.3" fill="#a3132f" stroke="#a3132f" stroke-width="0.05" text-anchor="middle" textLength="15.01" lengthAdjust="spacingAndGlyphs">40 (85)</text>
<text x="324.67" y="551.00" font-size="5.3" fill="#a3132f" stroke="#a3132f" stroke-width="0.05" text-anchor="middle" textLength="15.01" lengthAdjust="spacingAndGlyphs">38 (86)</text>
<text x="344.62" y="551.00" font-size="5.3" fill="#a3132f" stroke="#a3132f" stroke-width="0.05" text-anchor="middle" textLength="15.01" lengthAdjust="spacingAndGlyphs">38 (86)</text>
<text x="364.56" y="551.00" font-size="5.3" fill="#a3132f" stroke="#a3132f" stroke-width="0.05" text-anchor="middle" textLength="15.01" lengthAdjust="spacingAndGlyphs">36 (86)</text>
<text x="384.50" y="551.00" font-size="5.3" fill="#a3132f" stroke="#a3132f" stroke-width="0.05" text-anchor="middle" textLength="15.01" lengthAdjust="spacingAndGlyphs">30 (86)</text>
<text x="404.45" y="551.00" font-size="5.3" fill="#a3132f" stroke="#a3132f" stroke-width="0.05" text-anchor="middle" textLength="15.01" lengthAdjust="spacingAndGlyphs">23 (86)</text>
<text x="424.39" y="551.00" font-size="5.3" fill="#a3132f" stroke="#a3132f" stroke-width="0.05" text-anchor="middle" textLength="15.01" lengthAdjust="spacingAndGlyphs">20 (86)</text>
<text x="444.34" y="551.00" font-size="5.3" fill="#a3132f" stroke="#a3132f" stroke-width="0.05" text-anchor="middle" textLength="15.01" lengthAdjust="spacingAndGlyphs">11 (86)</text>
<text x="464.28" y="551.00" font-size="5.3" fill="#a3132f" stroke="#a3132f" stroke-width="0.05" text-anchor="middle" textLength="12.29" lengthAdjust="spacingAndGlyphs">1 (86)</text>
<text x="484.22" y="551.00" font-size="5.3" fill="#a3132f" stroke="#a3132f" stroke-width="0.05" text-anchor="middle" textLength="12.29" lengthAdjust="spacingAndGlyphs">0 (86)</text>
<text x="504.17" y="551.00" font-size="5.3" fill="#a3132f" stroke="#a3132f" stroke-width="0.05" text-anchor="middle" textLength="12.29" lengthAdjust="spacingAndGlyphs">0 (86)</text>
<text x="65.40" y="561.00" font-size="5.3" fill="#1d3375" stroke="#1d3375" stroke-width="0.05" text-anchor="middle" textLength="15.01" lengthAdjust="spacingAndGlyphs">144 (0)</text>
<text x="85.34" y="561.00" font-size="5.3" fill="#1d3375" stroke="#1d3375" stroke-width="0.05" text-anchor="middle" textLength="17.73" lengthAdjust="spacingAndGlyphs">130 (11)</text>
<text x="105.29" y="561.00" font-size="5.3" fill="#1d3375" stroke="#1d3375" stroke-width="0.05" text-anchor="middle" textLength="17.73" lengthAdjust="spacingAndGlyphs">117 (23)</text>
<text x="125.23" y="561.00" font-size="5.3" fill="#1d3375" stroke="#1d3375" stroke-width="0.05" text-anchor="middle" textLength="17.73" lengthAdjust="spacingAndGlyphs">107 (31)</text>
<text x="145.18" y="561.00" font-size="5.3" fill="#1d3375" stroke="#1d3375" stroke-width="0.05" text-anchor="middle" textLength="15.01" lengthAdjust="spacingAndGlyphs">98 (39)</text>
<text x="165.12" y="561.00" font-size="5.3" fill="#1d3375" stroke="#1d3375" stroke-width="0.05" text-anchor="middle" textLength="15.01" lengthAdjust="spacingAndGlyphs">91 (45)</text>
<text x="185.06" y="561.00" font-size="5.3" fill="#1d3375" stroke="#1d3375" stroke-width="0.05" text-anchor="middle" textLength="15.01" lengthAdjust="spacingAndGlyphs">90 (46)</text>
<text x="205.01" y="561.00" font-size="5.3" fill="#1d3375" stroke="#1d3375" stroke-width="0.05" text-anchor="middle" textLength="15.01" lengthAdjust="spacingAndGlyphs">87 (49)</text>
<text x="224.95" y="561.00" font-size="5.3" fill="#1d3375" stroke="#1d3375" stroke-width="0.05" text-anchor="middle" textLength="15.01" lengthAdjust="spacingAndGlyphs">86 (50)</text>
<text x="244.90" y="561.00" font-size="5.3" fill="#1d3375" stroke="#1d3375" stroke-width="0.05" text-anchor="middle" textLength="15.01" lengthAdjust="spacingAndGlyphs">85 (51)</text>
<text x="264.84" y="561.00" font-size="5.3" fill="#1d3375" stroke="#1d3375" stroke-width="0.05" text-anchor="middle" textLength="15.01" lengthAdjust="spacingAndGlyphs">81 (54)</text>
<text x="284.78" y="561.00" font-size="5.3" fill="#1d3375" stroke="#1d3375" stroke-width="0.05" text-anchor="middle" textLength="15.01" lengthAdjust="spacingAndGlyphs">78 (54)</text>
<text x="304.73" y="561.00" font-size="5.3" fill="#1d3375" stroke="#1d3375" stroke-width="0.05" text-anchor="middle" textLength="15.01" lengthAdjust="spacingAndGlyphs">75 (55)</text>
<text x="324.67" y="561.00" font-size="5.3" fill="#1d3375" stroke="#1d3375" stroke-width="0.05" text-anchor="middle" textLength="15.01" lengthAdjust="spacingAndGlyphs">74 (55)</text>
<text x="344.62" y="561.00" font-size="5.3" fill="#1d3375" stroke="#1d3375" stroke-width="0.05" text-anchor="middle" textLength="15.01" lengthAdjust="spacingAndGlyphs">73 (55)</text>
<text x="364.56" y="561.00" font-size="5.3" fill="#1d3375" stroke="#1d3375" stroke-width="0.05" text-anchor="middle" textLength="15.01" lengthAdjust="spacingAndGlyphs">70 (55)</text>
<text x="384.50" y="561.00" font-size="5.3" fill="#1d3375" stroke="#1d3375" stroke-width="0.05" text-anchor="middle" textLength="15.01" lengthAdjust="spacingAndGlyphs">59 (56)</text>
<text x="404.45" y="561.00" font-size="5.3" fill="#1d3375" stroke="#1d3375" stroke-width="0.05" text-anchor="middle" textLength="15.01" lengthAdjust="spacingAndGlyphs">42 (56)</text>
<text x="424.39" y="561.00" font-size="5.3" fill="#1d3375" stroke="#1d3375" stroke-width="0.05" text-anchor="middle" textLength="15.01" lengthAdjust="spacingAndGlyphs">38 (56)</text>
<text x="444.34" y="561.00" font-size="5.3" fill="#1d3375" stroke="#1d3375" stroke-width="0.05" text-anchor="middle" textLength="15.01" lengthAdjust="spacingAndGlyphs">23 (56)</text>
<text x="464.28" y="561.00" font-size="5.3" fill="#1d3375" stroke="#1d3375" stroke-width="0.05" text-anchor="middle" textLength="12.29" lengthAdjust="spacingAndGlyphs">6 (56)</text>
<text x="484.22" y="561.00" font-size="5.3" fill="#1d3375" stroke="#1d3375" stroke-width="0.05" text-anchor="middle" textLength="12.29" lengthAdjust="spacingAndGlyphs">2 (56)</text>
<text x="504.17" y="561.00" font-size="5.3" fill="#1d3375" stroke="#1d3375" stroke-width="0.05" text-anchor="middle" textLength="12.29" lengthAdjust="spacingAndGlyphs">0 (56)</text>
<text x="65.40" y="581.00" font-size="5.3" fill="#a3132f" stroke="#a3132f" stroke-width="0.05" text-anchor="middle" textLength="12.29" lengthAdjust="spacingAndGlyphs">84 (0)</text>
<text x="85.34" y="581.00" font-size="5.3" fill="#a3132f" stroke="#a3132f" stroke-width="0.05" text-anchor="middle" textLength="15.01" lengthAdjust="spacingAndGlyphs">49 (34)</text>
<text x="105.29" y="581.00" font-size="5.3" fill="#a3132f" stroke="#a3132f" stroke-width="0.05" text-anchor="middle" textLength="15.01" lengthAdjust="spacingAndGlyphs">36 (45)</text>
<text x="125.23" y="581.00" font-size="5.3" fill="#a3132f" stroke="#a3132f" stroke-width="0.05" text-anchor="middle" textLength="15.01" lengthAdjust="spacingAndGlyphs">29 (52)</text>
<text x="145.18" y="581.00" font-size="5.3" fill="#a3132f" stroke="#a3132f" stroke-width="0.05" text-anchor="middle" textLength="15.01" lengthAdjust="spacingAndGlyphs">24 (57)</text>
<text x="165.12" y="581.00" font-size="5.3" fill="#a3132f" stroke="#a3132f" stroke-width="0.05" text-anchor="middle" textLength="15.01" lengthAdjust="spacingAndGlyphs">22 (59)</text>
<text x="185.06" y="581.00" font-size="5.3" fill="#a3132f" stroke="#a3132f" stroke-width="0.05" text-anchor="middle" textLength="15.01" lengthAdjust="spacingAndGlyphs">20 (61)</text>
<text x="205.01" y="581.00" font-size="5.3" fill="#a3132f" stroke="#a3132f" stroke-width="0.05" text-anchor="middle" textLength="15.01" lengthAdjust="spacingAndGlyphs">19 (62)</text>
<text x="224.95" y="581.00" font-size="5.3" fill="#a3132f" stroke="#a3132f" stroke-width="0.05" text-anchor="middle" textLength="15.01" lengthAdjust="spacingAndGlyphs">18 (62)</text>
<text x="244.90" y="581.00" font-size="5.3" fill="#a3132f" stroke="#a3132f" stroke-width="0.05" text-anchor="middle" textLength="15.01" lengthAdjust="spacingAndGlyphs">18 (62)</text>
<text x="264.84" y="581.00" font-size="5.3" fill="#a3132f" stroke="#a3132f" stroke-width="0.05" text-anchor="middle" textLength="15.01" lengthAdjust="spacingAndGlyphs">17 (62)</text>
<text x="284.78" y="581.00" font-size="5.3" fill="#a3132f" stroke="#a3132f" stroke-width="0.05" text-anchor="middle" textLength="15.01" lengthAdjust="spacingAndGlyphs">17 (62)</text>
<text x="304.73" y="581.00" font-size="5.3" fill="#a3132f" stroke="#a3132f" stroke-width="0.05" text-anchor="middle" textLength="15.01" lengthAdjust="spacingAndGlyphs">17 (62)</text>
<text x="324.67" y="581.00" font-size="5.3" fill="#a3132f" stroke="#a3132f" stroke-width="0.05" text-anchor="middle" textLength="15.01" lengthAdjust="spacingAndGlyphs">15 (63)</text>
<text x="344.62" y="581.00" font-size="5.3" fill="#a3132f" stroke="#a3132f" stroke-width="0.05" text-anchor="middle" textLength="15.01" lengthAdjust="spacingAndGlyphs">15 (63)</text>
<text x="364.56" y="581.00" font-size="5.3" fill="#a3132f" stroke="#a3132f" stroke-width="0.05" text-anchor="middle" textLength="15.01" lengthAdjust="spacingAndGlyphs">14 (63)</text>
<text x="384.50" y="581.00" font-size="5.3" fill="#a3132f" stroke="#a3132f" stroke-width="0.05" text-anchor="middle" textLength="15.01" lengthAdjust="spacingAndGlyphs">11 (63)</text>
<text x="404.45" y="581.00" font-size="5.3" fill="#a3132f" stroke="#a3132f" stroke-width="0.05" text-anchor="middle" textLength="12.29" lengthAdjust="spacingAndGlyphs">9 (63)</text>
<text x="424.39" y="581.00" font-size="5.3" fill="#a3132f" stroke="#a3132f" stroke-width="0.05" text-anchor="middle" textLength="12.29" lengthAdjust="spacingAndGlyphs">9 (63)</text>
<text x="444.34" y="581.00" font-size="5.3" fill="#a3132f" stroke="#a3132f" stroke-width="0.05" text-anchor="middle" textLength="12.29" lengthAdjust="spacingAndGlyphs">6 (63)</text>
<text x="464.28" y="581.00" font-size="5.3" fill="#a3132f" stroke="#a3132f" stroke-width="0.05" text-anchor="middle" textLength="12.29" lengthAdjust="spacingAndGlyphs">0 (63)</text>
<text x="484.22" y="581.00" font-size="5.3" fill="#a3132f" stroke="#a3132f" stroke-width="0.05" text-anchor="middle" textLength="12.29" lengthAdjust="spacingAndGlyphs">0 (63)</text>
<text x="504.17" y="581.00" font-size="5.3" fill="#a3132f" stroke="#a3132f" stroke-width="0.05" text-anchor="middle" textLength="12.29" lengthAdjust="spacingAndGlyphs">0 (63)</text>
<text x="65.40" y="590.80" font-size="5.3" fill="#1d3375" stroke="#1d3375" stroke-width="0.05" text-anchor="middle" textLength="12.29" lengthAdjust="spacingAndGlyphs">82 (0)</text>
<text x="85.34" y="590.80" font-size="5.3" fill="#1d3375" stroke="#1d3375" stroke-width="0.05" text-anchor="middle" textLength="12.29" lengthAdjust="spacingAndGlyphs">73 (7)</text>
<text x="105.29" y="590.80" font-size="5.3" fill="#1d3375" stroke="#1d3375" stroke-width="0.05" text-anchor="middle" textLength="15.01" lengthAdjust="spacingAndGlyphs">63 (17)</text>
<text x="125.23" y="590.80" font-size="5.3" fill="#1d3375" stroke="#1d3375" stroke-width="0.05" text-anchor="middle" textLength="15.01" lengthAdjust="spacingAndGlyphs">56 (24)</text>
<text x="145.18" y="590.80" font-size="5.3" fill="#1d3375" stroke="#1d3375" stroke-width="0.05" text-anchor="middle" textLength="15.01" lengthAdjust="spacingAndGlyphs">49 (30)</text>
<text x="165.12" y="590.80" font-size="5.3" fill="#1d3375" stroke="#1d3375" stroke-width="0.05" text-anchor="middle" textLength="15.01" lengthAdjust="spacingAndGlyphs">46 (32)</text>
<text x="185.06" y="590.80" font-size="5.3" fill="#1d3375" stroke="#1d3375" stroke-width="0.05" text-anchor="middle" textLength="15.01" lengthAdjust="spacingAndGlyphs">46 (32)</text>
<text x="205.01" y="590.80" font-size="5.3" fill="#1d3375" stroke="#1d3375" stroke-width="0.05" text-anchor="middle" textLength="15.01" lengthAdjust="spacingAndGlyphs">44 (34)</text>
<text x="224.95" y="590.80" font-size="5.3" fill="#1d3375" stroke="#1d3375" stroke-width="0.05" text-anchor="middle" textLength="15.01" lengthAdjust="spacingAndGlyphs">44 (34)</text>
<text x="244.90" y="590.80" font-size="5.3" fill="#1d3375" stroke="#1d3375" stroke-width="0.05" text-anchor="middle" textLength="15.01" lengthAdjust="spacingAndGlyphs">44 (34)</text>
<text x="264.84" y="590.80" font-size="5.3" fill="#1d3375" stroke="#1d3375" stroke-width="0.05" text-anchor="middle" textLength="15.01" lengthAdjust="spacingAndGlyphs">42 (36)</text>
<text x="284.78" y="590.80" font-size="5.3" fill="#1d3375" stroke="#1d3375" stroke-width="0.05" text-anchor="middle" textLength="15.01" lengthAdjust="spacingAndGlyphs">42 (36)</text>
<text x="304.73" y="590.80" font-size="5.3" fill="#1d3375" stroke="#1d3375" stroke-width="0.05" text-anchor="middle" textLength="15.01" lengthAdjust="spacingAndGlyphs">41 (36)</text>
<text x="324.67" y="590.80" font-size="5.3" fill="#1d3375" stroke="#1d3375" stroke-width="0.05" text-anchor="middle" textLength="15.01" lengthAdjust="spacingAndGlyphs">40 (36)</text>
<text x="344.62" y="590.80" font-size="5.3" fill="#1d3375" stroke="#1d3375" stroke-width="0.05" text-anchor="middle" textLength="15.01" lengthAdjust="spacingAndGlyphs">39 (36)</text>
<text x="364.56" y="590.80" font-size="5.3" fill="#1d3375" stroke="#1d3375" stroke-width="0.05" text-anchor="middle" textLength="15.01" lengthAdjust="spacingAndGlyphs">38 (36)</text>
<text x="384.50" y="590.80" font-size="5.3" fill="#1d3375" stroke="#1d3375" stroke-width="0.05" text-anchor="middle" textLength="15.01" lengthAdjust="spacingAndGlyphs">31 (36)</text>
<text x="404.45" y="590.80" font-size="5.3" fill="#1d3375" stroke="#1d3375" stroke-width="0.05" text-anchor="middle" textLength="15.01" lengthAdjust="spacingAndGlyphs">26 (36)</text>
<text x="424.39" y="590.80" font-size="5.3" fill="#1d3375" stroke="#1d3375" stroke-width="0.05" text-anchor="middle" textLength="15.01" lengthAdjust="spacingAndGlyphs">24 (36)</text>
<text x="444.34" y="590.80" font-size="5.3" fill="#1d3375" stroke="#1d3375" stroke-width="0.05" text-anchor="middle" textLength="15.01" lengthAdjust="spacingAndGlyphs">15 (36)</text>
<text x="464.28" y="590.80" font-size="5.3" fill="#1d3375" stroke="#1d3375" stroke-width="0.05" text-anchor="middle" textLength="12.29" lengthAdjust="spacingAndGlyphs">3 (36)</text>
<text x="484.22" y="590.80" font-size="5.3" fill="#1d3375" stroke="#1d3375" stroke-width="0.05" text-anchor="middle" textLength="12.29" lengthAdjust="spacingAndGlyphs">1 (36)</text>
<text x="504.17" y="590.80" font-size="5.3" fill="#1d3375" stroke="#1d3375" stroke-width="0.05" text-anchor="middle" textLength="12.29" lengthAdjust="spacingAndGlyphs">0 (36)</text>
<rect x="0" y="0" width="520" height="1.05" fill="#000"/>
<rect x="0" y="0" width="1.15" height="598" fill="#000"/>
<rect x="518.5" y="0" width="1.5" height="598" fill="#000"/>
<rect x="0" y="596.5" width="520" height="1.5" fill="#000"/>
</svg></body></html>
